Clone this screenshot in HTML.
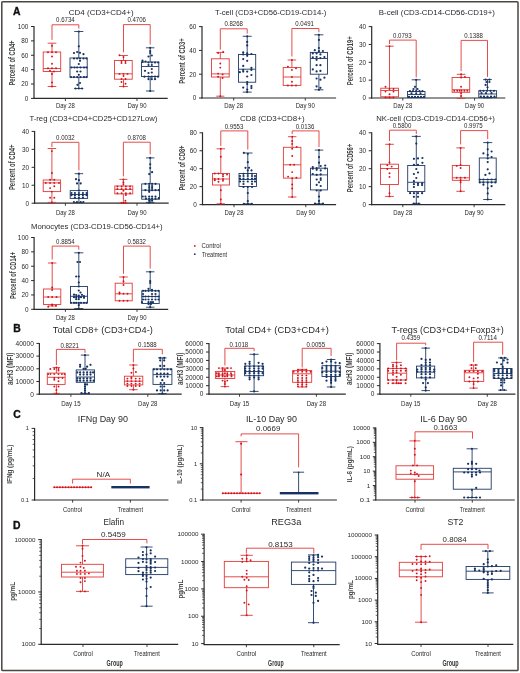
<!DOCTYPE html>
<html><head><meta charset="utf-8"><style>
html,body{margin:0;padding:0;background:#fff;}
svg{display:block;will-change:transform;}
text{font-family:"Liberation Sans",sans-serif;}
</style></head><body>
<svg width="520" height="673" viewBox="0 0 520 673" font-family="Liberation Sans, sans-serif">
<rect x="0" y="0" width="520" height="673" fill="#fff"/>
<rect x="1.8" y="1.8" width="516.2" height="668.8" rx="0.8" fill="none" stroke="#4a4642" stroke-width="1.5"/>
<text x="13.10" y="14.70" font-size="10.4" text-anchor="start" fill="#111" font-weight="bold" stroke="#111" stroke-width="0.35">A</text>
<text x="13.20" y="332.20" font-size="10.4" text-anchor="start" fill="#111" font-weight="bold" stroke="#111" stroke-width="0.35">B</text>
<text x="13.20" y="417.70" font-size="10.4" text-anchor="start" fill="#111" font-weight="bold" stroke="#111" stroke-width="0.35">C</text>
<text x="12.90" y="529.00" font-size="10.4" text-anchor="start" fill="#111" font-weight="bold" stroke="#111" stroke-width="0.35">D</text>
<line x1="34.00" y1="26.00" x2="34.00" y2="99.00" stroke="#2b2b2b" stroke-width="1.2"/>
<line x1="31.00" y1="98.40" x2="34.00" y2="98.40" stroke="#2b2b2b" stroke-width="1.0"/>
<text x="28.40" y="100.70" font-size="6.4" text-anchor="end" fill="#2a2a2a">0</text>
<line x1="31.00" y1="84.02" x2="34.00" y2="84.02" stroke="#2b2b2b" stroke-width="1.0"/>
<text x="28.40" y="86.32" font-size="6.4" text-anchor="end" fill="#2a2a2a">20</text>
<line x1="31.00" y1="69.64" x2="34.00" y2="69.64" stroke="#2b2b2b" stroke-width="1.0"/>
<text x="28.40" y="71.94" font-size="6.4" text-anchor="end" fill="#2a2a2a">40</text>
<line x1="31.00" y1="55.26" x2="34.00" y2="55.26" stroke="#2b2b2b" stroke-width="1.0"/>
<text x="28.40" y="57.56" font-size="6.4" text-anchor="end" fill="#2a2a2a">60</text>
<line x1="31.00" y1="40.88" x2="34.00" y2="40.88" stroke="#2b2b2b" stroke-width="1.0"/>
<text x="28.40" y="43.18" font-size="6.4" text-anchor="end" fill="#2a2a2a">80</text>
<line x1="31.00" y1="26.50" x2="34.00" y2="26.50" stroke="#2b2b2b" stroke-width="1.0"/>
<text x="28.40" y="28.80" font-size="6.4" text-anchor="end" fill="#2a2a2a">100</text>
<line x1="33.40" y1="98.40" x2="167.70" y2="98.40" stroke="#2b2b2b" stroke-width="1.2"/>
<line x1="65.40" y1="98.40" x2="65.40" y2="101.00" stroke="#2b2b2b" stroke-width="0.9"/>
<text x="65.40" y="108.00" font-size="6.6" text-anchor="middle" fill="#2a2a2a" textLength="19.00" lengthAdjust="spacingAndGlyphs">Day 28</text>
<line x1="137.00" y1="98.40" x2="137.00" y2="101.00" stroke="#2b2b2b" stroke-width="0.9"/>
<text x="137.00" y="108.00" font-size="6.6" text-anchor="middle" fill="#2a2a2a" textLength="19.00" lengthAdjust="spacingAndGlyphs">Day 90</text>
<text x="101.20" y="14.80" font-size="6.9" text-anchor="middle" fill="#2a2a2a" textLength="64.70" lengthAdjust="spacingAndGlyphs">CD4 (CD3+CD4+)</text>
<text transform="translate(15.20,63.00) rotate(-90)" x="0" y="0" font-size="8.2" text-anchor="middle" fill="#444" textLength="45.00" lengthAdjust="spacingAndGlyphs" font-weight="bold">Percent of CD4+</text>
<rect x="43.20" y="52.00" width="17.50" height="19.50" fill="none" stroke="#e03a38" stroke-width="0.9"/>
<line x1="43.20" y1="68.50" x2="60.70" y2="68.50" stroke="#e03a38" stroke-width="0.9"/>
<line x1="52.00" y1="43.20" x2="52.00" y2="52.00" stroke="#e03a38" stroke-width="0.9"/>
<line x1="47.65" y1="43.20" x2="56.35" y2="43.20" stroke="#e03a38" stroke-width="0.9"/>
<line x1="52.00" y1="71.50" x2="52.00" y2="86.50" stroke="#e03a38" stroke-width="0.9"/>
<line x1="47.65" y1="86.50" x2="56.35" y2="86.50" stroke="#e03a38" stroke-width="0.9"/>
<g fill="#d7101c"><circle cx="52.00" cy="45.80" r="0.95"/><circle cx="48.00" cy="52.20" r="0.95"/><circle cx="52.00" cy="52.20" r="0.95"/><circle cx="56.00" cy="52.20" r="0.95"/><circle cx="52.00" cy="56.50" r="0.95"/><circle cx="52.00" cy="63.80" r="0.95"/><circle cx="48.00" cy="68.20" r="0.95"/><circle cx="52.00" cy="68.20" r="0.95"/><circle cx="56.00" cy="68.20" r="0.95"/><circle cx="50.00" cy="70.80" r="0.95"/><circle cx="54.00" cy="71.50" r="0.95"/><circle cx="52.00" cy="74.00" r="0.95"/><circle cx="52.00" cy="82.50" r="0.95"/><circle cx="52.00" cy="86.50" r="0.95"/></g>
<rect x="70.00" y="58.00" width="17.20" height="19.20" fill="none" stroke="#1f3a66" stroke-width="0.9"/>
<line x1="70.00" y1="67.30" x2="87.20" y2="67.30" stroke="#1f3a66" stroke-width="0.9"/>
<line x1="78.80" y1="31.50" x2="78.80" y2="58.00" stroke="#1f3a66" stroke-width="0.9"/>
<line x1="74.30" y1="31.50" x2="83.30" y2="31.50" stroke="#1f3a66" stroke-width="0.9"/>
<line x1="78.80" y1="77.20" x2="78.80" y2="88.50" stroke="#1f3a66" stroke-width="0.9"/>
<line x1="74.30" y1="88.50" x2="83.30" y2="88.50" stroke="#1f3a66" stroke-width="0.9"/>
<g fill="#173262"><circle cx="78.80" cy="31.50" r="1.1"/><circle cx="78.80" cy="46.30" r="1.1"/><circle cx="74.00" cy="53.00" r="1.1"/><circle cx="77.20" cy="52.00" r="1.1"/><circle cx="80.00" cy="52.80" r="1.1"/><circle cx="83.50" cy="54.20" r="1.1"/><circle cx="74.00" cy="58.50" r="1.1"/><circle cx="77.20" cy="58.50" r="1.1"/><circle cx="80.00" cy="58.50" r="1.1"/><circle cx="83.50" cy="58.50" r="1.1"/><circle cx="86.50" cy="58.50" r="1.1"/><circle cx="80.00" cy="60.80" r="1.1"/><circle cx="78.80" cy="64.00" r="1.1"/><circle cx="71.50" cy="67.50" r="1.1"/><circle cx="74.50" cy="67.50" r="1.1"/><circle cx="77.20" cy="67.50" r="1.1"/><circle cx="80.50" cy="67.50" r="1.1"/><circle cx="84.00" cy="67.50" r="1.1"/><circle cx="86.50" cy="67.50" r="1.1"/><circle cx="77.20" cy="71.50" r="1.1"/><circle cx="80.50" cy="71.50" r="1.1"/><circle cx="78.80" cy="74.80" r="1.1"/><circle cx="71.00" cy="77.10" r="1.1"/><circle cx="74.00" cy="77.10" r="1.1"/><circle cx="77.20" cy="77.10" r="1.1"/><circle cx="80.50" cy="77.10" r="1.1"/><circle cx="84.00" cy="77.10" r="1.1"/><circle cx="86.50" cy="77.10" r="1.1"/><circle cx="80.00" cy="83.00" r="1.1"/><circle cx="77.50" cy="84.80" r="1.1"/><circle cx="75.50" cy="88.50" r="1.1"/><circle cx="78.80" cy="88.50" r="1.1"/><circle cx="82.00" cy="88.50" r="1.1"/></g>
<rect x="114.50" y="60.50" width="17.70" height="18.70" fill="none" stroke="#e03a38" stroke-width="0.9"/>
<line x1="114.50" y1="73.80" x2="132.20" y2="73.80" stroke="#e03a38" stroke-width="0.9"/>
<line x1="123.50" y1="55.50" x2="123.50" y2="60.50" stroke="#e03a38" stroke-width="0.9"/>
<line x1="119.10" y1="55.50" x2="127.90" y2="55.50" stroke="#e03a38" stroke-width="0.9"/>
<line x1="123.50" y1="79.20" x2="123.50" y2="86.50" stroke="#e03a38" stroke-width="0.9"/>
<line x1="119.10" y1="86.50" x2="127.90" y2="86.50" stroke="#e03a38" stroke-width="0.9"/>
<g fill="#d7101c"><circle cx="119.50" cy="55.30" r="0.95"/><circle cx="123.50" cy="57.00" r="0.95"/><circle cx="121.50" cy="61.00" r="0.95"/><circle cx="125.50" cy="61.00" r="0.95"/><circle cx="121.50" cy="63.00" r="0.95"/><circle cx="125.50" cy="63.00" r="0.95"/><circle cx="119.50" cy="73.90" r="0.95"/><circle cx="123.50" cy="73.90" r="0.95"/><circle cx="127.50" cy="73.90" r="0.95"/><circle cx="123.50" cy="76.00" r="0.95"/><circle cx="121.50" cy="79.00" r="0.95"/><circle cx="125.50" cy="79.00" r="0.95"/><circle cx="121.50" cy="82.00" r="0.95"/><circle cx="125.50" cy="83.80" r="0.95"/><circle cx="123.50" cy="86.50" r="0.95"/></g>
<rect x="141.50" y="62.00" width="17.30" height="14.50" fill="none" stroke="#1f3a66" stroke-width="0.9"/>
<line x1="141.50" y1="66.50" x2="158.80" y2="66.50" stroke="#1f3a66" stroke-width="0.9"/>
<line x1="150.20" y1="47.80" x2="150.20" y2="62.00" stroke="#1f3a66" stroke-width="0.9"/>
<line x1="145.95" y1="47.80" x2="154.45" y2="47.80" stroke="#1f3a66" stroke-width="0.9"/>
<line x1="150.20" y1="76.50" x2="150.20" y2="91.00" stroke="#1f3a66" stroke-width="0.9"/>
<line x1="145.95" y1="91.00" x2="154.45" y2="91.00" stroke="#1f3a66" stroke-width="0.9"/>
<g fill="#173262"><circle cx="150.20" cy="47.80" r="1.1"/><circle cx="150.20" cy="51.00" r="1.1"/><circle cx="150.20" cy="53.00" r="1.1"/><circle cx="148.50" cy="56.50" r="1.1"/><circle cx="151.80" cy="55.50" r="1.1"/><circle cx="142.50" cy="60.50" r="1.1"/><circle cx="142.50" cy="62.00" r="1.1"/><circle cx="145.50" cy="61.50" r="1.1"/><circle cx="148.50" cy="62.50" r="1.1"/><circle cx="151.80" cy="62.50" r="1.1"/><circle cx="155.00" cy="62.50" r="1.1"/><circle cx="158.20" cy="62.50" r="1.1"/><circle cx="148.50" cy="65.00" r="1.1"/><circle cx="151.80" cy="65.00" r="1.1"/><circle cx="145.00" cy="70.80" r="1.1"/><circle cx="148.50" cy="73.00" r="1.1"/><circle cx="151.80" cy="69.00" r="1.1"/><circle cx="151.80" cy="72.50" r="1.1"/><circle cx="144.50" cy="76.70" r="1.1"/><circle cx="148.50" cy="76.70" r="1.1"/><circle cx="151.80" cy="76.70" r="1.1"/><circle cx="155.00" cy="76.70" r="1.1"/><circle cx="158.00" cy="76.70" r="1.1"/><circle cx="148.50" cy="79.20" r="1.1"/><circle cx="151.80" cy="79.20" r="1.1"/><circle cx="155.00" cy="79.20" r="1.1"/><circle cx="150.20" cy="91.00" r="1.1"/></g>
<path d="M52.00,39.90 V24.80 H78.80 V28.50" fill="none" stroke="#e03a38" stroke-width="0.9"/>
<text x="65.40" y="22.40" font-size="6.3" text-anchor="middle" fill="#2a2a2a" textLength="18.60" lengthAdjust="spacingAndGlyphs">0.6734</text>
<path d="M123.50,52.30 V24.60 H150.20 V44.60" fill="none" stroke="#e03a38" stroke-width="0.9"/>
<text x="136.70" y="22.30" font-size="6.3" text-anchor="middle" fill="#2a2a2a" textLength="18.60" lengthAdjust="spacingAndGlyphs">0.4706</text>
<line x1="202.00" y1="26.10" x2="202.00" y2="98.60" stroke="#2b2b2b" stroke-width="1.2"/>
<line x1="199.00" y1="98.00" x2="202.00" y2="98.00" stroke="#2b2b2b" stroke-width="1.0"/>
<text x="196.40" y="100.30" font-size="6.4" text-anchor="end" fill="#2a2a2a">0</text>
<line x1="199.00" y1="74.20" x2="202.00" y2="74.20" stroke="#2b2b2b" stroke-width="1.0"/>
<text x="196.40" y="76.50" font-size="6.4" text-anchor="end" fill="#2a2a2a">20</text>
<line x1="199.00" y1="50.40" x2="202.00" y2="50.40" stroke="#2b2b2b" stroke-width="1.0"/>
<text x="196.40" y="52.70" font-size="6.4" text-anchor="end" fill="#2a2a2a">40</text>
<line x1="199.00" y1="26.60" x2="202.00" y2="26.60" stroke="#2b2b2b" stroke-width="1.0"/>
<text x="196.40" y="28.90" font-size="6.4" text-anchor="end" fill="#2a2a2a">60</text>
<line x1="201.40" y1="98.00" x2="336.10" y2="98.00" stroke="#2b2b2b" stroke-width="1.2"/>
<line x1="233.70" y1="98.00" x2="233.70" y2="100.60" stroke="#2b2b2b" stroke-width="0.9"/>
<text x="233.70" y="108.00" font-size="6.6" text-anchor="middle" fill="#2a2a2a" textLength="19.00" lengthAdjust="spacingAndGlyphs">Day 28</text>
<line x1="305.30" y1="98.00" x2="305.30" y2="100.60" stroke="#2b2b2b" stroke-width="0.9"/>
<text x="305.30" y="108.00" font-size="6.6" text-anchor="middle" fill="#2a2a2a" textLength="19.00" lengthAdjust="spacingAndGlyphs">Day 90</text>
<text x="270.70" y="14.80" font-size="6.9" text-anchor="middle" fill="#2a2a2a" textLength="111.40" lengthAdjust="spacingAndGlyphs">T-cell (CD3+CD56-CD19-CD14-)</text>
<text transform="translate(184.60,61.00) rotate(-90)" x="0" y="0" font-size="8.2" text-anchor="middle" fill="#444" textLength="45.50" lengthAdjust="spacingAndGlyphs" font-weight="bold">Percent of CD3+</text>
<rect x="211.50" y="58.80" width="17.70" height="18.20" fill="none" stroke="#e03a38" stroke-width="0.9"/>
<line x1="211.50" y1="73.90" x2="229.20" y2="73.90" stroke="#e03a38" stroke-width="0.9"/>
<line x1="220.30" y1="52.40" x2="220.30" y2="58.80" stroke="#e03a38" stroke-width="0.9"/>
<line x1="216.25" y1="52.40" x2="224.35" y2="52.40" stroke="#e03a38" stroke-width="0.9"/>
<line x1="220.30" y1="77.00" x2="220.30" y2="96.20" stroke="#e03a38" stroke-width="0.9"/>
<line x1="216.25" y1="96.20" x2="224.35" y2="96.20" stroke="#e03a38" stroke-width="0.9"/>
<g fill="#d7101c"><circle cx="218.10" cy="53.00" r="0.95"/><circle cx="223.20" cy="52.00" r="0.95"/><circle cx="220.30" cy="63.50" r="0.95"/><circle cx="220.30" cy="67.60" r="0.95"/><circle cx="218.10" cy="73.60" r="0.95"/><circle cx="222.60" cy="74.40" r="0.95"/><circle cx="218.10" cy="76.70" r="0.95"/><circle cx="222.60" cy="78.00" r="0.95"/><circle cx="220.30" cy="96.20" r="0.95"/></g>
<rect x="238.50" y="54.50" width="17.20" height="27.70" fill="none" stroke="#1f3a66" stroke-width="0.9"/>
<line x1="238.50" y1="69.20" x2="255.70" y2="69.20" stroke="#1f3a66" stroke-width="0.9"/>
<line x1="247.20" y1="36.30" x2="247.20" y2="54.50" stroke="#1f3a66" stroke-width="0.9"/>
<line x1="242.70" y1="36.30" x2="251.70" y2="36.30" stroke="#1f3a66" stroke-width="0.9"/>
<line x1="247.20" y1="82.20" x2="247.20" y2="92.10" stroke="#1f3a66" stroke-width="0.9"/>
<line x1="242.70" y1="92.10" x2="251.70" y2="92.10" stroke="#1f3a66" stroke-width="0.9"/>
<g fill="#173262"><circle cx="247.20" cy="36.30" r="1.1"/><circle cx="247.20" cy="41.90" r="1.1"/><circle cx="247.20" cy="45.40" r="1.1"/><circle cx="243.20" cy="52.40" r="1.1"/><circle cx="243.20" cy="54.40" r="1.1"/><circle cx="247.20" cy="53.40" r="1.1"/><circle cx="247.20" cy="55.80" r="1.1"/><circle cx="251.40" cy="54.00" r="1.1"/><circle cx="243.20" cy="59.10" r="1.1"/><circle cx="247.20" cy="60.80" r="1.1"/><circle cx="243.20" cy="65.90" r="1.1"/><circle cx="239.80" cy="72.20" r="1.1"/><circle cx="243.20" cy="69.90" r="1.1"/><circle cx="243.20" cy="71.60" r="1.1"/><circle cx="247.20" cy="71.60" r="1.1"/><circle cx="251.40" cy="67.90" r="1.1"/><circle cx="251.40" cy="69.90" r="1.1"/><circle cx="251.40" cy="75.00" r="1.1"/><circle cx="247.20" cy="76.50" r="1.1"/><circle cx="247.20" cy="82.00" r="1.1"/><circle cx="247.20" cy="84.00" r="1.1"/><circle cx="243.20" cy="87.60" r="1.1"/><circle cx="251.40" cy="86.10" r="1.1"/><circle cx="251.40" cy="88.10" r="1.1"/><circle cx="247.20" cy="89.60" r="1.1"/><circle cx="247.20" cy="92.10" r="1.1"/></g>
<rect x="283.20" y="67.60" width="17.70" height="17.80" fill="none" stroke="#e03a38" stroke-width="0.9"/>
<line x1="283.20" y1="77.00" x2="300.90" y2="77.00" stroke="#e03a38" stroke-width="0.9"/>
<line x1="291.90" y1="60.00" x2="291.90" y2="67.60" stroke="#e03a38" stroke-width="0.9"/>
<line x1="287.65" y1="60.00" x2="296.15" y2="60.00" stroke="#e03a38" stroke-width="0.9"/>
<g fill="#d7101c"><circle cx="291.90" cy="60.00" r="0.95"/><circle cx="287.90" cy="66.60" r="0.95"/><circle cx="291.90" cy="69.90" r="0.95"/><circle cx="296.00" cy="68.20" r="0.95"/><circle cx="291.90" cy="77.00" r="0.95"/><circle cx="291.90" cy="81.70" r="0.95"/><circle cx="287.90" cy="85.50" r="0.95"/><circle cx="291.90" cy="85.50" r="0.95"/><circle cx="296.00" cy="85.50" r="0.95"/></g>
<rect x="310.30" y="52.40" width="17.20" height="21.80" fill="none" stroke="#1f3a66" stroke-width="0.9"/>
<line x1="310.30" y1="58.50" x2="327.50" y2="58.50" stroke="#1f3a66" stroke-width="0.9"/>
<line x1="318.90" y1="34.80" x2="318.90" y2="52.40" stroke="#1f3a66" stroke-width="0.9"/>
<line x1="314.40" y1="34.80" x2="323.40" y2="34.80" stroke="#1f3a66" stroke-width="0.9"/>
<line x1="318.90" y1="74.20" x2="318.90" y2="89.80" stroke="#1f3a66" stroke-width="0.9"/>
<line x1="314.40" y1="89.80" x2="323.40" y2="89.80" stroke="#1f3a66" stroke-width="0.9"/>
<g fill="#173262"><circle cx="318.90" cy="34.80" r="1.1"/><circle cx="318.90" cy="39.90" r="1.1"/><circle cx="318.90" cy="48.00" r="1.1"/><circle cx="314.80" cy="50.20" r="1.1"/><circle cx="318.90" cy="51.20" r="1.1"/><circle cx="322.90" cy="51.00" r="1.1"/><circle cx="312.80" cy="53.40" r="1.1"/><circle cx="316.60" cy="53.40" r="1.1"/><circle cx="320.40" cy="54.40" r="1.1"/><circle cx="312.80" cy="57.30" r="1.1"/><circle cx="316.60" cy="57.00" r="1.1"/><circle cx="316.60" cy="59.80" r="1.1"/><circle cx="320.40" cy="58.10" r="1.1"/><circle cx="324.40" cy="57.10" r="1.1"/><circle cx="316.60" cy="65.20" r="1.1"/><circle cx="320.40" cy="65.20" r="1.1"/><circle cx="312.80" cy="69.40" r="1.1"/><circle cx="316.60" cy="71.40" r="1.1"/><circle cx="320.40" cy="70.90" r="1.1"/><circle cx="316.60" cy="78.50" r="1.1"/><circle cx="320.40" cy="79.70" r="1.1"/><circle cx="324.40" cy="77.70" r="1.1"/><circle cx="316.60" cy="86.40" r="1.1"/><circle cx="320.40" cy="87.80" r="1.1"/><circle cx="318.90" cy="89.80" r="1.1"/></g>
<path d="M220.30,49.60 V28.80 H247.20 V33.70" fill="none" stroke="#e03a38" stroke-width="0.9"/>
<text x="233.70" y="26.20" font-size="6.3" text-anchor="middle" fill="#2a2a2a" textLength="18.60" lengthAdjust="spacingAndGlyphs">0.8268</text>
<path d="M291.90,56.50 V28.50 H318.90 V32.30" fill="none" stroke="#e03a38" stroke-width="0.9"/>
<text x="304.60" y="26.20" font-size="6.3" text-anchor="middle" fill="#2a2a2a" textLength="18.60" lengthAdjust="spacingAndGlyphs">0.0491</text>
<line x1="371.70" y1="26.10" x2="371.70" y2="98.60" stroke="#2b2b2b" stroke-width="1.2"/>
<line x1="368.70" y1="98.00" x2="371.70" y2="98.00" stroke="#2b2b2b" stroke-width="1.0"/>
<text x="366.10" y="100.30" font-size="6.4" text-anchor="end" fill="#2a2a2a">0</text>
<line x1="368.70" y1="80.15" x2="371.70" y2="80.15" stroke="#2b2b2b" stroke-width="1.0"/>
<text x="366.10" y="82.45" font-size="6.4" text-anchor="end" fill="#2a2a2a">10</text>
<line x1="368.70" y1="62.30" x2="371.70" y2="62.30" stroke="#2b2b2b" stroke-width="1.0"/>
<text x="366.10" y="64.60" font-size="6.4" text-anchor="end" fill="#2a2a2a">20</text>
<line x1="368.70" y1="44.45" x2="371.70" y2="44.45" stroke="#2b2b2b" stroke-width="1.0"/>
<text x="366.10" y="46.75" font-size="6.4" text-anchor="end" fill="#2a2a2a">30</text>
<line x1="368.70" y1="26.60" x2="371.70" y2="26.60" stroke="#2b2b2b" stroke-width="1.0"/>
<text x="366.10" y="28.90" font-size="6.4" text-anchor="end" fill="#2a2a2a">40</text>
<line x1="371.10" y1="98.00" x2="505.30" y2="98.00" stroke="#2b2b2b" stroke-width="1.2"/>
<line x1="402.80" y1="98.00" x2="402.80" y2="100.60" stroke="#2b2b2b" stroke-width="0.9"/>
<text x="402.80" y="108.00" font-size="6.6" text-anchor="middle" fill="#2a2a2a" textLength="19.00" lengthAdjust="spacingAndGlyphs">Day 28</text>
<line x1="474.60" y1="98.00" x2="474.60" y2="100.60" stroke="#2b2b2b" stroke-width="0.9"/>
<text x="474.60" y="108.00" font-size="6.6" text-anchor="middle" fill="#2a2a2a" textLength="19.00" lengthAdjust="spacingAndGlyphs">Day 90</text>
<text x="436.90" y="14.80" font-size="6.9" text-anchor="middle" fill="#2a2a2a" textLength="116.20" lengthAdjust="spacingAndGlyphs">B-cell (CD3-CD14-CD56-CD19+)</text>
<text transform="translate(353.10,60.80) rotate(-90)" x="0" y="0" font-size="8.2" text-anchor="middle" fill="#444" textLength="49.00" lengthAdjust="spacingAndGlyphs" font-weight="bold">Percent of CD19+</text>
<rect x="380.80" y="88.20" width="17.70" height="8.60" fill="none" stroke="#e03a38" stroke-width="0.9"/>
<line x1="380.80" y1="90.50" x2="398.50" y2="90.50" stroke="#e03a38" stroke-width="0.9"/>
<line x1="389.50" y1="46.20" x2="389.50" y2="88.20" stroke="#e03a38" stroke-width="0.9"/>
<line x1="385.25" y1="46.20" x2="393.75" y2="46.20" stroke="#e03a38" stroke-width="0.9"/>
<line x1="389.50" y1="96.80" x2="389.50" y2="97.80" stroke="#e03a38" stroke-width="0.9"/>
<line x1="385.25" y1="97.80" x2="393.75" y2="97.80" stroke="#e03a38" stroke-width="0.9"/>
<g fill="#d7101c"><circle cx="389.50" cy="46.20" r="0.95"/><circle cx="385.50" cy="86.80" r="0.95"/><circle cx="389.50" cy="89.00" r="0.95"/><circle cx="393.50" cy="89.00" r="0.95"/><circle cx="385.50" cy="91.60" r="0.95"/><circle cx="393.50" cy="91.60" r="0.95"/><circle cx="389.50" cy="94.20" r="0.95"/><circle cx="385.50" cy="97.40" r="0.95"/><circle cx="389.50" cy="97.40" r="0.95"/><circle cx="393.50" cy="97.40" r="0.95"/></g>
<rect x="407.50" y="91.50" width="17.50" height="6.00" fill="none" stroke="#1f3a66" stroke-width="0.9"/>
<line x1="407.50" y1="94.50" x2="425.00" y2="94.50" stroke="#1f3a66" stroke-width="0.9"/>
<line x1="416.20" y1="79.80" x2="416.20" y2="91.50" stroke="#1f3a66" stroke-width="0.9"/>
<line x1="411.70" y1="79.80" x2="420.70" y2="79.80" stroke="#1f3a66" stroke-width="0.9"/>
<g fill="#173262"><circle cx="416.20" cy="79.80" r="1.1"/><circle cx="415.00" cy="86.80" r="1.1"/><circle cx="413.50" cy="89.00" r="1.1"/><circle cx="417.50" cy="89.00" r="1.1"/><circle cx="410.00" cy="91.20" r="1.1"/><circle cx="413.00" cy="91.20" r="1.1"/><circle cx="416.20" cy="91.20" r="1.1"/><circle cx="419.50" cy="91.20" r="1.1"/><circle cx="422.50" cy="91.20" r="1.1"/><circle cx="411.50" cy="93.30" r="1.1"/><circle cx="416.20" cy="93.30" r="1.1"/><circle cx="420.50" cy="93.30" r="1.1"/><circle cx="409.00" cy="96.80" r="1.1"/><circle cx="412.00" cy="96.80" r="1.1"/><circle cx="415.00" cy="96.80" r="1.1"/><circle cx="418.00" cy="96.80" r="1.1"/><circle cx="421.00" cy="96.80" r="1.1"/><circle cx="424.00" cy="96.80" r="1.1"/></g>
<rect x="452.10" y="77.50" width="17.60" height="14.80" fill="none" stroke="#e03a38" stroke-width="0.9"/>
<line x1="452.10" y1="89.70" x2="469.70" y2="89.70" stroke="#e03a38" stroke-width="0.9"/>
<line x1="461.10" y1="74.30" x2="461.10" y2="77.50" stroke="#e03a38" stroke-width="0.9"/>
<line x1="456.75" y1="74.30" x2="465.45" y2="74.30" stroke="#e03a38" stroke-width="0.9"/>
<line x1="461.10" y1="92.30" x2="461.10" y2="98.40" stroke="#e03a38" stroke-width="0.9"/>
<line x1="456.75" y1="98.40" x2="465.45" y2="98.40" stroke="#e03a38" stroke-width="0.9"/>
<g fill="#d7101c"><circle cx="461.10" cy="74.30" r="0.95"/><circle cx="461.10" cy="77.50" r="0.95"/><circle cx="464.90" cy="76.90" r="0.95"/><circle cx="461.10" cy="86.80" r="0.95"/><circle cx="454.30" cy="90.70" r="0.95"/><circle cx="457.20" cy="90.70" r="0.95"/><circle cx="459.60" cy="90.70" r="0.95"/><circle cx="461.50" cy="90.70" r="0.95"/><circle cx="464.40" cy="90.70" r="0.95"/><circle cx="467.30" cy="90.70" r="0.95"/><circle cx="461.10" cy="93.10" r="0.95"/><circle cx="461.10" cy="96.00" r="0.95"/></g>
<rect x="478.80" y="90.70" width="17.80" height="6.70" fill="none" stroke="#1f3a66" stroke-width="0.9"/>
<line x1="478.80" y1="94.00" x2="496.60" y2="94.00" stroke="#1f3a66" stroke-width="0.9"/>
<line x1="487.50" y1="79.60" x2="487.50" y2="90.70" stroke="#1f3a66" stroke-width="0.9"/>
<line x1="483.15" y1="79.60" x2="491.85" y2="79.60" stroke="#1f3a66" stroke-width="0.9"/>
<line x1="487.50" y1="97.40" x2="487.50" y2="97.80" stroke="#1f3a66" stroke-width="0.9"/>
<line x1="483.15" y1="97.80" x2="491.85" y2="97.80" stroke="#1f3a66" stroke-width="0.9"/>
<g fill="#173262"><circle cx="485.60" cy="79.60" r="1.1"/><circle cx="489.40" cy="79.60" r="1.1"/><circle cx="486.50" cy="82.00" r="1.1"/><circle cx="489.40" cy="82.00" r="1.1"/><circle cx="485.60" cy="84.90" r="1.1"/><circle cx="487.50" cy="87.30" r="1.1"/><circle cx="480.30" cy="90.80" r="1.1"/><circle cx="483.50" cy="90.80" r="1.1"/><circle cx="487.00" cy="90.80" r="1.1"/><circle cx="490.50" cy="90.80" r="1.1"/><circle cx="494.00" cy="90.80" r="1.1"/><circle cx="481.50" cy="93.20" r="1.1"/><circle cx="486.00" cy="93.20" r="1.1"/><circle cx="491.50" cy="93.20" r="1.1"/><circle cx="480.80" cy="96.50" r="1.1"/><circle cx="484.00" cy="96.50" r="1.1"/><circle cx="487.50" cy="96.50" r="1.1"/><circle cx="491.00" cy="96.50" r="1.1"/><circle cx="494.50" cy="96.50" r="1.1"/></g>
<path d="M389.50,44.00 V40.10 H416.20 V77.30" fill="none" stroke="#e03a38" stroke-width="0.9"/>
<text x="402.30" y="37.70" font-size="6.3" text-anchor="middle" fill="#2a2a2a" textLength="18.60" lengthAdjust="spacingAndGlyphs">0.0793</text>
<path d="M461.10,71.20 V40.40 H487.50 V76.90" fill="none" stroke="#e03a38" stroke-width="0.9"/>
<text x="473.60" y="37.70" font-size="6.3" text-anchor="middle" fill="#2a2a2a" textLength="18.60" lengthAdjust="spacingAndGlyphs">0.1388</text>
<line x1="34.60" y1="130.90" x2="34.60" y2="203.80" stroke="#2b2b2b" stroke-width="1.2"/>
<line x1="31.60" y1="203.20" x2="34.60" y2="203.20" stroke="#2b2b2b" stroke-width="1.0"/>
<text x="29.00" y="205.50" font-size="6.4" text-anchor="end" fill="#2a2a2a">0</text>
<line x1="31.60" y1="185.25" x2="34.60" y2="185.25" stroke="#2b2b2b" stroke-width="1.0"/>
<text x="29.00" y="187.55" font-size="6.4" text-anchor="end" fill="#2a2a2a">10</text>
<line x1="31.60" y1="167.30" x2="34.60" y2="167.30" stroke="#2b2b2b" stroke-width="1.0"/>
<text x="29.00" y="169.60" font-size="6.4" text-anchor="end" fill="#2a2a2a">20</text>
<line x1="31.60" y1="149.35" x2="34.60" y2="149.35" stroke="#2b2b2b" stroke-width="1.0"/>
<text x="29.00" y="151.65" font-size="6.4" text-anchor="end" fill="#2a2a2a">30</text>
<line x1="31.60" y1="131.40" x2="34.60" y2="131.40" stroke="#2b2b2b" stroke-width="1.0"/>
<text x="29.00" y="133.70" font-size="6.4" text-anchor="end" fill="#2a2a2a">40</text>
<line x1="34.00" y1="203.20" x2="168.70" y2="203.20" stroke="#2b2b2b" stroke-width="1.2"/>
<line x1="65.40" y1="203.20" x2="65.40" y2="205.80" stroke="#2b2b2b" stroke-width="0.9"/>
<text x="65.40" y="214.60" font-size="6.6" text-anchor="middle" fill="#2a2a2a" textLength="19.00" lengthAdjust="spacingAndGlyphs">Day 28</text>
<line x1="137.00" y1="203.20" x2="137.00" y2="205.80" stroke="#2b2b2b" stroke-width="0.9"/>
<text x="137.00" y="214.60" font-size="6.6" text-anchor="middle" fill="#2a2a2a" textLength="19.00" lengthAdjust="spacingAndGlyphs">Day 90</text>
<text x="93.40" y="121.20" font-size="6.9" text-anchor="middle" fill="#2a2a2a" textLength="128.00" lengthAdjust="spacingAndGlyphs">T-reg (CD3+CD4+CD25+CD127Low)</text>
<text transform="translate(15.40,167.30) rotate(-90)" x="0" y="0" font-size="8.2" text-anchor="middle" fill="#444" textLength="45.50" lengthAdjust="spacingAndGlyphs" font-weight="bold">Percent of CD4+</text>
<rect x="43.20" y="180.00" width="17.40" height="11.60" fill="none" stroke="#e03a38" stroke-width="0.9"/>
<line x1="43.20" y1="182.90" x2="60.60" y2="182.90" stroke="#e03a38" stroke-width="0.9"/>
<line x1="51.90" y1="148.50" x2="51.90" y2="180.00" stroke="#e03a38" stroke-width="0.9"/>
<line x1="47.65" y1="148.50" x2="56.15" y2="148.50" stroke="#e03a38" stroke-width="0.9"/>
<line x1="51.90" y1="191.60" x2="51.90" y2="202.40" stroke="#e03a38" stroke-width="0.9"/>
<line x1="47.65" y1="202.40" x2="56.15" y2="202.40" stroke="#e03a38" stroke-width="0.9"/>
<g fill="#d7101c"><circle cx="51.90" cy="151.10" r="0.95"/><circle cx="51.90" cy="173.00" r="0.95"/><circle cx="50.10" cy="179.70" r="0.95"/><circle cx="54.30" cy="179.70" r="0.95"/><circle cx="45.80" cy="182.90" r="0.95"/><circle cx="50.10" cy="182.90" r="0.95"/><circle cx="54.30" cy="182.90" r="0.95"/><circle cx="59.00" cy="182.90" r="0.95"/><circle cx="54.30" cy="186.30" r="0.95"/><circle cx="50.10" cy="188.10" r="0.95"/><circle cx="51.90" cy="191.60" r="0.95"/><circle cx="50.10" cy="197.70" r="0.95"/><circle cx="54.30" cy="197.70" r="0.95"/><circle cx="51.90" cy="202.40" r="0.95"/></g>
<rect x="70.20" y="190.60" width="17.40" height="7.80" fill="none" stroke="#1f3a66" stroke-width="0.9"/>
<line x1="70.20" y1="194.50" x2="87.60" y2="194.50" stroke="#1f3a66" stroke-width="0.9"/>
<line x1="78.90" y1="173.70" x2="78.90" y2="190.60" stroke="#1f3a66" stroke-width="0.9"/>
<line x1="74.65" y1="173.70" x2="83.15" y2="173.70" stroke="#1f3a66" stroke-width="0.9"/>
<line x1="78.90" y1="198.40" x2="78.90" y2="202.60" stroke="#1f3a66" stroke-width="0.9"/>
<line x1="74.65" y1="202.60" x2="83.15" y2="202.60" stroke="#1f3a66" stroke-width="0.9"/>
<g fill="#173262"><circle cx="78.90" cy="173.70" r="1.1"/><circle cx="76.00" cy="179.20" r="1.1"/><circle cx="78.90" cy="180.20" r="1.1"/><circle cx="77.00" cy="183.40" r="1.1"/><circle cx="80.70" cy="183.40" r="1.1"/><circle cx="78.90" cy="190.60" r="1.1"/><circle cx="71.50" cy="193.00" r="1.1"/><circle cx="74.90" cy="193.00" r="1.1"/><circle cx="78.90" cy="193.00" r="1.1"/><circle cx="82.90" cy="193.00" r="1.1"/><circle cx="86.60" cy="193.00" r="1.1"/><circle cx="71.50" cy="195.20" r="1.1"/><circle cx="74.90" cy="195.20" r="1.1"/><circle cx="78.90" cy="195.20" r="1.1"/><circle cx="82.90" cy="195.20" r="1.1"/><circle cx="86.60" cy="195.20" r="1.1"/><circle cx="74.90" cy="197.70" r="1.1"/><circle cx="78.90" cy="197.70" r="1.1"/><circle cx="82.90" cy="197.70" r="1.1"/><circle cx="73.90" cy="202.00" r="1.1"/><circle cx="77.00" cy="202.00" r="1.1"/><circle cx="80.70" cy="202.00" r="1.1"/><circle cx="83.40" cy="202.00" r="1.1"/></g>
<rect x="114.80" y="186.00" width="18.00" height="7.90" fill="none" stroke="#e03a38" stroke-width="0.9"/>
<line x1="114.80" y1="189.40" x2="132.80" y2="189.40" stroke="#e03a38" stroke-width="0.9"/>
<line x1="123.40" y1="179.40" x2="123.40" y2="186.00" stroke="#e03a38" stroke-width="0.9"/>
<line x1="119.40" y1="179.40" x2="127.40" y2="179.40" stroke="#e03a38" stroke-width="0.9"/>
<line x1="123.40" y1="193.90" x2="123.40" y2="202.90" stroke="#e03a38" stroke-width="0.9"/>
<line x1="119.40" y1="202.90" x2="127.40" y2="202.90" stroke="#e03a38" stroke-width="0.9"/>
<g fill="#d7101c"><circle cx="123.40" cy="179.40" r="0.95"/><circle cx="123.40" cy="182.30" r="0.95"/><circle cx="123.40" cy="184.10" r="0.95"/><circle cx="117.40" cy="186.50" r="0.95"/><circle cx="121.60" cy="186.50" r="0.95"/><circle cx="125.90" cy="186.50" r="0.95"/><circle cx="130.10" cy="186.50" r="0.95"/><circle cx="117.40" cy="189.00" r="0.95"/><circle cx="121.60" cy="189.00" r="0.95"/><circle cx="125.90" cy="189.00" r="0.95"/><circle cx="130.10" cy="189.00" r="0.95"/><circle cx="123.40" cy="190.70" r="0.95"/><circle cx="117.40" cy="193.20" r="0.95"/><circle cx="121.60" cy="193.20" r="0.95"/><circle cx="125.90" cy="193.20" r="0.95"/><circle cx="130.10" cy="193.20" r="0.95"/><circle cx="125.90" cy="195.00" r="0.95"/><circle cx="125.40" cy="200.80" r="0.95"/><circle cx="121.60" cy="202.90" r="0.95"/><circle cx="123.40" cy="202.90" r="0.95"/><circle cx="125.40" cy="202.90" r="0.95"/></g>
<rect x="141.70" y="183.90" width="17.80" height="15.30" fill="none" stroke="#1f3a66" stroke-width="0.9"/>
<line x1="141.70" y1="190.20" x2="159.50" y2="190.20" stroke="#1f3a66" stroke-width="0.9"/>
<line x1="150.20" y1="157.90" x2="150.20" y2="183.90" stroke="#1f3a66" stroke-width="0.9"/>
<line x1="145.95" y1="157.90" x2="154.45" y2="157.90" stroke="#1f3a66" stroke-width="0.9"/>
<line x1="150.20" y1="199.20" x2="150.20" y2="202.40" stroke="#1f3a66" stroke-width="0.9"/>
<line x1="145.95" y1="202.40" x2="154.45" y2="202.40" stroke="#1f3a66" stroke-width="0.9"/>
<g fill="#173262"><circle cx="150.20" cy="157.90" r="1.1"/><circle cx="150.20" cy="164.30" r="1.1"/><circle cx="150.20" cy="168.00" r="1.1"/><circle cx="152.10" cy="172.20" r="1.1"/><circle cx="149.20" cy="174.10" r="1.1"/><circle cx="145.40" cy="183.80" r="1.1"/><circle cx="149.20" cy="183.80" r="1.1"/><circle cx="152.10" cy="183.80" r="1.1"/><circle cx="155.50" cy="183.80" r="1.1"/><circle cx="149.20" cy="186.00" r="1.1"/><circle cx="152.10" cy="186.00" r="1.1"/><circle cx="149.20" cy="187.90" r="1.1"/><circle cx="152.10" cy="187.90" r="1.1"/><circle cx="145.40" cy="190.20" r="1.1"/><circle cx="149.20" cy="190.20" r="1.1"/><circle cx="152.10" cy="190.20" r="1.1"/><circle cx="155.50" cy="190.20" r="1.1"/><circle cx="158.70" cy="190.20" r="1.1"/><circle cx="149.20" cy="191.80" r="1.1"/><circle cx="142.80" cy="196.50" r="1.1"/><circle cx="145.40" cy="196.50" r="1.1"/><circle cx="149.20" cy="196.50" r="1.1"/><circle cx="152.10" cy="196.50" r="1.1"/><circle cx="155.50" cy="196.50" r="1.1"/><circle cx="158.70" cy="198.20" r="1.1"/><circle cx="146.00" cy="198.70" r="1.1"/><circle cx="149.20" cy="198.70" r="1.1"/><circle cx="152.10" cy="198.70" r="1.1"/><circle cx="155.50" cy="198.70" r="1.1"/><circle cx="149.20" cy="200.70" r="1.1"/><circle cx="152.10" cy="200.70" r="1.1"/><circle cx="149.20" cy="202.50" r="1.1"/></g>
<path d="M51.90,147.00 V142.30 H78.90 V170.40" fill="none" stroke="#e03a38" stroke-width="0.9"/>
<text x="65.40" y="140.00" font-size="6.3" text-anchor="middle" fill="#2a2a2a" textLength="18.60" lengthAdjust="spacingAndGlyphs">0.0032</text>
<path d="M123.40,176.40 V142.20 H150.20 V154.40" fill="none" stroke="#e03a38" stroke-width="0.9"/>
<text x="136.70" y="140.00" font-size="6.3" text-anchor="middle" fill="#2a2a2a" textLength="18.60" lengthAdjust="spacingAndGlyphs">0.8708</text>
<line x1="202.50" y1="132.30" x2="202.50" y2="205.20" stroke="#2b2b2b" stroke-width="1.2"/>
<line x1="199.50" y1="204.60" x2="202.50" y2="204.60" stroke="#2b2b2b" stroke-width="1.0"/>
<text x="196.90" y="206.90" font-size="6.4" text-anchor="end" fill="#2a2a2a">0</text>
<line x1="199.50" y1="186.65" x2="202.50" y2="186.65" stroke="#2b2b2b" stroke-width="1.0"/>
<text x="196.90" y="188.95" font-size="6.4" text-anchor="end" fill="#2a2a2a">20</text>
<line x1="199.50" y1="168.70" x2="202.50" y2="168.70" stroke="#2b2b2b" stroke-width="1.0"/>
<text x="196.90" y="171.00" font-size="6.4" text-anchor="end" fill="#2a2a2a">40</text>
<line x1="199.50" y1="150.75" x2="202.50" y2="150.75" stroke="#2b2b2b" stroke-width="1.0"/>
<text x="196.90" y="153.05" font-size="6.4" text-anchor="end" fill="#2a2a2a">60</text>
<line x1="199.50" y1="132.80" x2="202.50" y2="132.80" stroke="#2b2b2b" stroke-width="1.0"/>
<text x="196.90" y="135.10" font-size="6.4" text-anchor="end" fill="#2a2a2a">80</text>
<line x1="201.90" y1="204.60" x2="336.10" y2="204.60" stroke="#2b2b2b" stroke-width="1.2"/>
<line x1="234.00" y1="204.60" x2="234.00" y2="207.20" stroke="#2b2b2b" stroke-width="0.9"/>
<text x="234.00" y="214.60" font-size="6.6" text-anchor="middle" fill="#2a2a2a" textLength="19.00" lengthAdjust="spacingAndGlyphs">Day 28</text>
<line x1="305.80" y1="204.60" x2="305.80" y2="207.20" stroke="#2b2b2b" stroke-width="0.9"/>
<text x="305.80" y="214.60" font-size="6.6" text-anchor="middle" fill="#2a2a2a" textLength="19.00" lengthAdjust="spacingAndGlyphs">Day 90</text>
<text x="272.30" y="121.20" font-size="6.9" text-anchor="middle" fill="#2a2a2a" textLength="64.50" lengthAdjust="spacingAndGlyphs">CD8 (CD3+CD8+)</text>
<text transform="translate(185.20,168.00) rotate(-90)" x="0" y="0" font-size="8.2" text-anchor="middle" fill="#444" textLength="45.00" lengthAdjust="spacingAndGlyphs" font-weight="bold">Percent of CD8+</text>
<rect x="212.50" y="173.50" width="17.00" height="11.50" fill="none" stroke="#e03a38" stroke-width="0.9"/>
<line x1="212.50" y1="179.00" x2="229.50" y2="179.00" stroke="#e03a38" stroke-width="0.9"/>
<line x1="220.80" y1="148.80" x2="220.80" y2="173.50" stroke="#e03a38" stroke-width="0.9"/>
<line x1="216.60" y1="148.80" x2="225.00" y2="148.80" stroke="#e03a38" stroke-width="0.9"/>
<line x1="220.80" y1="185.00" x2="220.80" y2="203.80" stroke="#e03a38" stroke-width="0.9"/>
<line x1="216.60" y1="203.80" x2="225.00" y2="203.80" stroke="#e03a38" stroke-width="0.9"/>
<g fill="#d7101c"><circle cx="220.80" cy="148.80" r="0.95"/><circle cx="220.80" cy="156.80" r="0.95"/><circle cx="214.80" cy="173.50" r="0.95"/><circle cx="218.50" cy="173.50" r="0.95"/><circle cx="223.00" cy="174.50" r="0.95"/><circle cx="227.00" cy="174.50" r="0.95"/><circle cx="223.00" cy="176.20" r="0.95"/><circle cx="214.80" cy="179.00" r="0.95"/><circle cx="218.50" cy="179.00" r="0.95"/><circle cx="223.00" cy="179.00" r="0.95"/><circle cx="214.80" cy="180.20" r="0.95"/><circle cx="218.50" cy="181.80" r="0.95"/><circle cx="223.00" cy="180.80" r="0.95"/><circle cx="220.80" cy="190.20" r="0.95"/><circle cx="220.80" cy="199.50" r="0.95"/><circle cx="220.80" cy="203.80" r="0.95"/></g>
<rect x="239.00" y="173.50" width="17.50" height="13.00" fill="none" stroke="#1f3a66" stroke-width="0.9"/>
<line x1="239.00" y1="179.50" x2="256.50" y2="179.50" stroke="#1f3a66" stroke-width="0.9"/>
<line x1="247.80" y1="153.00" x2="247.80" y2="173.50" stroke="#1f3a66" stroke-width="0.9"/>
<line x1="243.05" y1="153.00" x2="252.55" y2="153.00" stroke="#1f3a66" stroke-width="0.9"/>
<line x1="247.80" y1="186.50" x2="247.80" y2="203.80" stroke="#1f3a66" stroke-width="0.9"/>
<line x1="243.05" y1="203.80" x2="252.55" y2="203.80" stroke="#1f3a66" stroke-width="0.9"/>
<g fill="#173262"><circle cx="243.80" cy="152.80" r="1.1"/><circle cx="247.80" cy="153.80" r="1.1"/><circle cx="247.80" cy="162.20" r="1.1"/><circle cx="245.50" cy="167.80" r="1.1"/><circle cx="249.00" cy="167.80" r="1.1"/><circle cx="247.80" cy="170.40" r="1.1"/><circle cx="251.50" cy="170.40" r="1.1"/><circle cx="243.50" cy="173.80" r="1.1"/><circle cx="247.80" cy="173.80" r="1.1"/><circle cx="252.00" cy="173.80" r="1.1"/><circle cx="240.00" cy="176.00" r="1.1"/><circle cx="243.50" cy="176.00" r="1.1"/><circle cx="247.80" cy="176.00" r="1.1"/><circle cx="252.00" cy="176.00" r="1.1"/><circle cx="255.00" cy="176.00" r="1.1"/><circle cx="240.00" cy="178.50" r="1.1"/><circle cx="243.50" cy="178.50" r="1.1"/><circle cx="247.80" cy="178.50" r="1.1"/><circle cx="252.00" cy="178.50" r="1.1"/><circle cx="255.00" cy="178.50" r="1.1"/><circle cx="240.00" cy="181.50" r="1.1"/><circle cx="243.50" cy="181.50" r="1.1"/><circle cx="247.80" cy="181.50" r="1.1"/><circle cx="252.00" cy="181.50" r="1.1"/><circle cx="255.00" cy="181.50" r="1.1"/><circle cx="243.50" cy="184.00" r="1.1"/><circle cx="252.00" cy="184.00" r="1.1"/><circle cx="243.50" cy="187.00" r="1.1"/><circle cx="247.80" cy="187.00" r="1.1"/><circle cx="252.00" cy="187.00" r="1.1"/><circle cx="247.80" cy="193.00" r="1.1"/><circle cx="247.80" cy="201.00" r="1.1"/><circle cx="243.80" cy="203.80" r="1.1"/><circle cx="247.80" cy="203.80" r="1.1"/><circle cx="251.80" cy="203.80" r="1.1"/></g>
<rect x="283.40" y="147.30" width="17.50" height="30.80" fill="none" stroke="#e03a38" stroke-width="0.9"/>
<line x1="283.40" y1="164.80" x2="300.90" y2="164.80" stroke="#e03a38" stroke-width="0.9"/>
<line x1="292.20" y1="136.70" x2="292.20" y2="147.30" stroke="#e03a38" stroke-width="0.9"/>
<line x1="287.95" y1="136.70" x2="296.45" y2="136.70" stroke="#e03a38" stroke-width="0.9"/>
<line x1="292.20" y1="178.10" x2="292.20" y2="197.00" stroke="#e03a38" stroke-width="0.9"/>
<line x1="287.95" y1="197.00" x2="296.45" y2="197.00" stroke="#e03a38" stroke-width="0.9"/>
<g fill="#d7101c"><circle cx="292.20" cy="136.70" r="0.95"/><circle cx="292.20" cy="141.00" r="0.95"/><circle cx="292.20" cy="143.90" r="0.95"/><circle cx="292.20" cy="148.70" r="0.95"/><circle cx="296.70" cy="146.90" r="0.95"/><circle cx="292.20" cy="156.00" r="0.95"/><circle cx="290.20" cy="164.80" r="0.95"/><circle cx="294.10" cy="164.80" r="0.95"/><circle cx="292.20" cy="172.10" r="0.95"/><circle cx="288.10" cy="176.60" r="0.95"/><circle cx="292.20" cy="178.30" r="0.95"/><circle cx="296.40" cy="177.80" r="0.95"/><circle cx="292.20" cy="184.50" r="0.95"/><circle cx="292.20" cy="188.50" r="0.95"/><circle cx="292.20" cy="197.00" r="0.95"/></g>
<rect x="310.50" y="168.20" width="17.00" height="21.70" fill="none" stroke="#1f3a66" stroke-width="0.9"/>
<line x1="310.50" y1="174.90" x2="327.50" y2="174.90" stroke="#1f3a66" stroke-width="0.9"/>
<line x1="319.00" y1="150.10" x2="319.00" y2="168.20" stroke="#1f3a66" stroke-width="0.9"/>
<line x1="314.75" y1="150.10" x2="323.25" y2="150.10" stroke="#1f3a66" stroke-width="0.9"/>
<line x1="319.00" y1="189.90" x2="319.00" y2="203.80" stroke="#1f3a66" stroke-width="0.9"/>
<line x1="314.75" y1="203.80" x2="323.25" y2="203.80" stroke="#1f3a66" stroke-width="0.9"/>
<g fill="#173262"><circle cx="319.00" cy="150.10" r="1.1"/><circle cx="319.00" cy="157.10" r="1.1"/><circle cx="319.00" cy="162.70" r="1.1"/><circle cx="312.80" cy="167.00" r="1.1"/><circle cx="316.70" cy="168.20" r="1.1"/><circle cx="320.70" cy="166.00" r="1.1"/><circle cx="325.20" cy="165.50" r="1.1"/><circle cx="312.80" cy="168.70" r="1.1"/><circle cx="316.70" cy="169.80" r="1.1"/><circle cx="320.70" cy="170.40" r="1.1"/><circle cx="325.20" cy="168.40" r="1.1"/><circle cx="312.80" cy="174.00" r="1.1"/><circle cx="316.70" cy="174.90" r="1.1"/><circle cx="320.70" cy="174.40" r="1.1"/><circle cx="316.70" cy="179.50" r="1.1"/><circle cx="320.70" cy="178.30" r="1.1"/><circle cx="320.70" cy="180.00" r="1.1"/><circle cx="319.00" cy="182.30" r="1.1"/><circle cx="316.70" cy="184.90" r="1.1"/><circle cx="320.70" cy="186.00" r="1.1"/><circle cx="316.70" cy="190.50" r="1.1"/><circle cx="320.70" cy="190.50" r="1.1"/><circle cx="319.00" cy="196.60" r="1.1"/><circle cx="319.00" cy="200.90" r="1.1"/><circle cx="315.00" cy="203.60" r="1.1"/><circle cx="319.00" cy="203.60" r="1.1"/><circle cx="323.00" cy="203.60" r="1.1"/></g>
<path d="M220.80,146.10 V130.90 H247.80 V149.60" fill="none" stroke="#e03a38" stroke-width="0.9"/>
<text x="234.00" y="128.80" font-size="6.3" text-anchor="middle" fill="#2a2a2a" textLength="18.60" lengthAdjust="spacingAndGlyphs">0.9553</text>
<path d="M292.20,134.00 V130.90 H319.00 V147.00" fill="none" stroke="#e03a38" stroke-width="0.9"/>
<text x="305.00" y="128.50" font-size="6.3" text-anchor="middle" fill="#2a2a2a" textLength="18.60" lengthAdjust="spacingAndGlyphs">0.0136</text>
<line x1="371.70" y1="132.30" x2="371.70" y2="205.20" stroke="#2b2b2b" stroke-width="1.2"/>
<line x1="368.70" y1="204.60" x2="371.70" y2="204.60" stroke="#2b2b2b" stroke-width="1.0"/>
<text x="366.10" y="206.90" font-size="6.4" text-anchor="end" fill="#2a2a2a">0</text>
<line x1="368.70" y1="186.65" x2="371.70" y2="186.65" stroke="#2b2b2b" stroke-width="1.0"/>
<text x="366.10" y="188.95" font-size="6.4" text-anchor="end" fill="#2a2a2a">10</text>
<line x1="368.70" y1="168.70" x2="371.70" y2="168.70" stroke="#2b2b2b" stroke-width="1.0"/>
<text x="366.10" y="171.00" font-size="6.4" text-anchor="end" fill="#2a2a2a">20</text>
<line x1="368.70" y1="150.75" x2="371.70" y2="150.75" stroke="#2b2b2b" stroke-width="1.0"/>
<text x="366.10" y="153.05" font-size="6.4" text-anchor="end" fill="#2a2a2a">30</text>
<line x1="368.70" y1="132.80" x2="371.70" y2="132.80" stroke="#2b2b2b" stroke-width="1.0"/>
<text x="366.10" y="135.10" font-size="6.4" text-anchor="end" fill="#2a2a2a">40</text>
<line x1="371.10" y1="204.60" x2="505.30" y2="204.60" stroke="#2b2b2b" stroke-width="1.2"/>
<line x1="402.80" y1="204.60" x2="402.80" y2="207.20" stroke="#2b2b2b" stroke-width="0.9"/>
<text x="402.80" y="214.60" font-size="6.6" text-anchor="middle" fill="#2a2a2a" textLength="19.00" lengthAdjust="spacingAndGlyphs">Day 28</text>
<line x1="474.10" y1="204.60" x2="474.10" y2="207.20" stroke="#2b2b2b" stroke-width="0.9"/>
<text x="474.10" y="214.60" font-size="6.6" text-anchor="middle" fill="#2a2a2a" textLength="19.00" lengthAdjust="spacingAndGlyphs">Day 90</text>
<text x="435.60" y="121.20" font-size="6.9" text-anchor="middle" fill="#2a2a2a" textLength="118.70" lengthAdjust="spacingAndGlyphs">NK-cell (CD3-CD19-CD14-CD56+)</text>
<text transform="translate(353.40,168.00) rotate(-90)" x="0" y="0" font-size="8.2" text-anchor="middle" fill="#444" textLength="48.50" lengthAdjust="spacingAndGlyphs" font-weight="bold">Percent of CD56+</text>
<rect x="380.50" y="164.20" width="18.00" height="20.30" fill="none" stroke="#e03a38" stroke-width="0.9"/>
<line x1="380.50" y1="168.50" x2="398.50" y2="168.50" stroke="#e03a38" stroke-width="0.9"/>
<line x1="389.50" y1="144.30" x2="389.50" y2="164.20" stroke="#e03a38" stroke-width="0.9"/>
<line x1="385.15" y1="144.30" x2="393.85" y2="144.30" stroke="#e03a38" stroke-width="0.9"/>
<line x1="389.50" y1="184.50" x2="389.50" y2="196.40" stroke="#e03a38" stroke-width="0.9"/>
<line x1="385.15" y1="196.40" x2="393.85" y2="196.40" stroke="#e03a38" stroke-width="0.9"/>
<g fill="#d7101c"><circle cx="389.50" cy="144.30" r="0.95"/><circle cx="389.50" cy="162.40" r="0.95"/><circle cx="387.30" cy="165.30" r="0.95"/><circle cx="391.70" cy="166.60" r="0.95"/><circle cx="387.30" cy="169.00" r="0.95"/><circle cx="389.50" cy="173.30" r="0.95"/><circle cx="389.50" cy="176.90" r="0.95"/><circle cx="389.50" cy="193.20" r="0.95"/><circle cx="389.50" cy="196.40" r="0.95"/></g>
<rect x="407.70" y="165.50" width="17.10" height="26.00" fill="none" stroke="#1f3a66" stroke-width="0.9"/>
<line x1="407.70" y1="182.30" x2="424.80" y2="182.30" stroke="#1f3a66" stroke-width="0.9"/>
<line x1="416.30" y1="136.40" x2="416.30" y2="165.50" stroke="#1f3a66" stroke-width="0.9"/>
<line x1="411.80" y1="136.40" x2="420.80" y2="136.40" stroke="#1f3a66" stroke-width="0.9"/>
<line x1="416.30" y1="191.50" x2="416.30" y2="204.00" stroke="#1f3a66" stroke-width="0.9"/>
<line x1="411.80" y1="204.00" x2="420.80" y2="204.00" stroke="#1f3a66" stroke-width="0.9"/>
<g fill="#173262"><circle cx="416.30" cy="136.40" r="1.1"/><circle cx="416.30" cy="143.60" r="1.1"/><circle cx="413.90" cy="158.80" r="1.1"/><circle cx="418.00" cy="158.40" r="1.1"/><circle cx="422.40" cy="158.00" r="1.1"/><circle cx="422.40" cy="162.80" r="1.1"/><circle cx="413.90" cy="164.80" r="1.1"/><circle cx="418.00" cy="164.80" r="1.1"/><circle cx="416.30" cy="169.00" r="1.1"/><circle cx="413.90" cy="174.00" r="1.1"/><circle cx="418.00" cy="172.50" r="1.1"/><circle cx="416.30" cy="178.00" r="1.1"/><circle cx="413.90" cy="181.20" r="1.1"/><circle cx="418.00" cy="183.50" r="1.1"/><circle cx="413.90" cy="184.20" r="1.1"/><circle cx="413.90" cy="187.00" r="1.1"/><circle cx="418.00" cy="185.10" r="1.1"/><circle cx="422.10" cy="183.40" r="1.1"/><circle cx="422.10" cy="185.10" r="1.1"/><circle cx="410.10" cy="193.20" r="1.1"/><circle cx="413.90" cy="193.20" r="1.1"/><circle cx="418.00" cy="193.20" r="1.1"/><circle cx="422.10" cy="193.20" r="1.1"/><circle cx="413.90" cy="196.80" r="1.1"/><circle cx="418.00" cy="196.80" r="1.1"/><circle cx="413.90" cy="203.50" r="1.1"/><circle cx="416.30" cy="203.50" r="1.1"/><circle cx="418.80" cy="203.50" r="1.1"/></g>
<rect x="452.30" y="165.50" width="17.20" height="14.80" fill="none" stroke="#e03a38" stroke-width="0.9"/>
<line x1="452.30" y1="177.80" x2="469.50" y2="177.80" stroke="#e03a38" stroke-width="0.9"/>
<line x1="460.60" y1="147.90" x2="460.60" y2="165.50" stroke="#e03a38" stroke-width="0.9"/>
<line x1="456.35" y1="147.90" x2="464.85" y2="147.90" stroke="#e03a38" stroke-width="0.9"/>
<line x1="460.60" y1="180.30" x2="460.60" y2="191.30" stroke="#e03a38" stroke-width="0.9"/>
<line x1="456.35" y1="191.30" x2="464.85" y2="191.30" stroke="#e03a38" stroke-width="0.9"/>
<g fill="#d7101c"><circle cx="460.60" cy="147.90" r="0.95"/><circle cx="460.60" cy="164.90" r="0.95"/><circle cx="456.70" cy="165.90" r="0.95"/><circle cx="460.60" cy="168.00" r="0.95"/><circle cx="456.70" cy="177.80" r="0.95"/><circle cx="460.60" cy="177.80" r="0.95"/><circle cx="464.90" cy="177.80" r="0.95"/><circle cx="460.60" cy="180.00" r="0.95"/><circle cx="460.60" cy="182.30" r="0.95"/><circle cx="460.60" cy="191.30" r="0.95"/></g>
<rect x="479.30" y="158.00" width="16.90" height="24.10" fill="none" stroke="#1f3a66" stroke-width="0.9"/>
<line x1="479.30" y1="179.50" x2="496.20" y2="179.50" stroke="#1f3a66" stroke-width="0.9"/>
<line x1="487.70" y1="142.60" x2="487.70" y2="158.00" stroke="#1f3a66" stroke-width="0.9"/>
<line x1="483.20" y1="142.60" x2="492.20" y2="142.60" stroke="#1f3a66" stroke-width="0.9"/>
<line x1="487.70" y1="182.10" x2="487.70" y2="199.50" stroke="#1f3a66" stroke-width="0.9"/>
<line x1="483.20" y1="199.50" x2="492.20" y2="199.50" stroke="#1f3a66" stroke-width="0.9"/>
<g fill="#173262"><circle cx="487.70" cy="142.60" r="1.1"/><circle cx="487.70" cy="149.30" r="1.1"/><circle cx="483.40" cy="153.40" r="1.1"/><circle cx="487.70" cy="154.90" r="1.1"/><circle cx="491.60" cy="151.50" r="1.1"/><circle cx="491.60" cy="157.00" r="1.1"/><circle cx="487.70" cy="158.50" r="1.1"/><circle cx="487.70" cy="162.10" r="1.1"/><circle cx="487.70" cy="169.30" r="1.1"/><circle cx="485.40" cy="174.90" r="1.1"/><circle cx="489.50" cy="173.40" r="1.1"/><circle cx="479.80" cy="179.50" r="1.1"/><circle cx="483.40" cy="179.50" r="1.1"/><circle cx="487.70" cy="179.50" r="1.1"/><circle cx="491.60" cy="179.50" r="1.1"/><circle cx="495.40" cy="179.50" r="1.1"/><circle cx="479.80" cy="182.40" r="1.1"/><circle cx="483.40" cy="182.40" r="1.1"/><circle cx="487.70" cy="182.40" r="1.1"/><circle cx="491.60" cy="182.40" r="1.1"/><circle cx="495.40" cy="182.40" r="1.1"/><circle cx="483.40" cy="184.70" r="1.1"/><circle cx="491.60" cy="186.20" r="1.1"/><circle cx="487.70" cy="188.30" r="1.1"/><circle cx="487.70" cy="193.40" r="1.1"/><circle cx="487.70" cy="199.50" r="1.1"/></g>
<path d="M389.50,141.00 V130.20 H416.30 V134.00" fill="none" stroke="#e03a38" stroke-width="0.9"/>
<text x="402.00" y="127.60" font-size="6.3" text-anchor="middle" fill="#2a2a2a" textLength="18.60" lengthAdjust="spacingAndGlyphs">0.5800</text>
<path d="M460.60,144.40 V130.60 H487.70 V139.20" fill="none" stroke="#e03a38" stroke-width="0.9"/>
<text x="473.30" y="127.60" font-size="6.3" text-anchor="middle" fill="#2a2a2a" textLength="18.60" lengthAdjust="spacingAndGlyphs">0.9975</text>
<line x1="34.10" y1="237.00" x2="34.10" y2="309.90" stroke="#2b2b2b" stroke-width="1.2"/>
<line x1="31.10" y1="309.30" x2="34.10" y2="309.30" stroke="#2b2b2b" stroke-width="1.0"/>
<text x="28.50" y="311.60" font-size="6.4" text-anchor="end" fill="#2a2a2a">0</text>
<line x1="31.10" y1="294.94" x2="34.10" y2="294.94" stroke="#2b2b2b" stroke-width="1.0"/>
<text x="28.50" y="297.24" font-size="6.4" text-anchor="end" fill="#2a2a2a">20</text>
<line x1="31.10" y1="280.58" x2="34.10" y2="280.58" stroke="#2b2b2b" stroke-width="1.0"/>
<text x="28.50" y="282.88" font-size="6.4" text-anchor="end" fill="#2a2a2a">40</text>
<line x1="31.10" y1="266.22" x2="34.10" y2="266.22" stroke="#2b2b2b" stroke-width="1.0"/>
<text x="28.50" y="268.52" font-size="6.4" text-anchor="end" fill="#2a2a2a">60</text>
<line x1="31.10" y1="251.86" x2="34.10" y2="251.86" stroke="#2b2b2b" stroke-width="1.0"/>
<text x="28.50" y="254.16" font-size="6.4" text-anchor="end" fill="#2a2a2a">80</text>
<line x1="31.10" y1="237.50" x2="34.10" y2="237.50" stroke="#2b2b2b" stroke-width="1.0"/>
<text x="28.50" y="239.80" font-size="6.4" text-anchor="end" fill="#2a2a2a">100</text>
<line x1="33.50" y1="309.30" x2="168.20" y2="309.30" stroke="#2b2b2b" stroke-width="1.2"/>
<line x1="65.40" y1="309.30" x2="65.40" y2="311.90" stroke="#2b2b2b" stroke-width="0.9"/>
<text x="65.40" y="320.00" font-size="6.6" text-anchor="middle" fill="#2a2a2a" textLength="19.00" lengthAdjust="spacingAndGlyphs">Day 28</text>
<line x1="137.00" y1="309.30" x2="137.00" y2="311.90" stroke="#2b2b2b" stroke-width="0.9"/>
<text x="137.00" y="320.00" font-size="6.6" text-anchor="middle" fill="#2a2a2a" textLength="19.00" lengthAdjust="spacingAndGlyphs">Day 90</text>
<text x="96.80" y="229.00" font-size="6.9" text-anchor="middle" fill="#2a2a2a" textLength="131.50" lengthAdjust="spacingAndGlyphs">Monocytes (CD3-CD19-CD56-CD14+)</text>
<text transform="translate(15.80,275.50) rotate(-90)" x="0" y="0" font-size="8.2" text-anchor="middle" fill="#444" textLength="47.00" lengthAdjust="spacingAndGlyphs" font-weight="bold">Percent of CD14+</text>
<rect x="43.50" y="289.00" width="17.30" height="15.50" fill="none" stroke="#e03a38" stroke-width="0.9"/>
<line x1="43.50" y1="297.00" x2="60.80" y2="297.00" stroke="#e03a38" stroke-width="0.9"/>
<line x1="52.20" y1="263.00" x2="52.20" y2="289.00" stroke="#e03a38" stroke-width="0.9"/>
<line x1="47.95" y1="263.00" x2="56.45" y2="263.00" stroke="#e03a38" stroke-width="0.9"/>
<line x1="52.20" y1="304.50" x2="52.20" y2="306.00" stroke="#e03a38" stroke-width="0.9"/>
<line x1="47.95" y1="306.00" x2="56.45" y2="306.00" stroke="#e03a38" stroke-width="0.9"/>
<g fill="#d7101c"><circle cx="52.20" cy="263.00" r="0.95"/><circle cx="52.20" cy="287.50" r="0.95"/><circle cx="52.20" cy="290.00" r="0.95"/><circle cx="48.20" cy="297.00" r="0.95"/><circle cx="52.20" cy="297.00" r="0.95"/><circle cx="56.50" cy="297.00" r="0.95"/><circle cx="52.20" cy="304.50" r="0.95"/><circle cx="48.20" cy="306.80" r="0.95"/><circle cx="52.20" cy="305.50" r="0.95"/><circle cx="56.00" cy="305.80" r="0.95"/></g>
<rect x="70.50" y="286.50" width="17.00" height="16.50" fill="none" stroke="#1f3a66" stroke-width="0.9"/>
<line x1="70.50" y1="296.30" x2="87.50" y2="296.30" stroke="#1f3a66" stroke-width="0.9"/>
<line x1="78.80" y1="252.80" x2="78.80" y2="286.50" stroke="#1f3a66" stroke-width="0.9"/>
<line x1="74.30" y1="252.80" x2="83.30" y2="252.80" stroke="#1f3a66" stroke-width="0.9"/>
<line x1="78.80" y1="303.00" x2="78.80" y2="308.50" stroke="#1f3a66" stroke-width="0.9"/>
<line x1="74.30" y1="308.50" x2="83.30" y2="308.50" stroke="#1f3a66" stroke-width="0.9"/>
<g fill="#173262"><circle cx="78.80" cy="252.80" r="1.1"/><circle cx="77.50" cy="262.00" r="1.1"/><circle cx="80.00" cy="262.00" r="1.1"/><circle cx="76.20" cy="276.50" r="1.1"/><circle cx="78.80" cy="276.50" r="1.1"/><circle cx="78.80" cy="282.50" r="1.1"/><circle cx="78.80" cy="286.50" r="1.1"/><circle cx="78.80" cy="290.50" r="1.1"/><circle cx="80.50" cy="292.50" r="1.1"/><circle cx="74.00" cy="294.70" r="1.1"/><circle cx="76.20" cy="295.00" r="1.1"/><circle cx="78.80" cy="295.50" r="1.1"/><circle cx="82.00" cy="294.80" r="1.1"/><circle cx="84.00" cy="296.20" r="1.1"/><circle cx="74.00" cy="297.20" r="1.1"/><circle cx="76.20" cy="297.20" r="1.1"/><circle cx="78.80" cy="297.20" r="1.1"/><circle cx="81.00" cy="297.20" r="1.1"/><circle cx="84.00" cy="297.80" r="1.1"/><circle cx="76.20" cy="299.20" r="1.1"/><circle cx="78.80" cy="299.20" r="1.1"/><circle cx="71.00" cy="302.80" r="1.1"/><circle cx="74.00" cy="302.80" r="1.1"/><circle cx="76.20" cy="302.80" r="1.1"/><circle cx="78.80" cy="302.80" r="1.1"/><circle cx="81.00" cy="302.80" r="1.1"/><circle cx="84.00" cy="302.80" r="1.1"/><circle cx="86.50" cy="302.80" r="1.1"/><circle cx="78.80" cy="305.20" r="1.1"/><circle cx="78.80" cy="308.50" r="1.1"/></g>
<rect x="115.20" y="283.20" width="17.00" height="17.60" fill="none" stroke="#e03a38" stroke-width="0.9"/>
<line x1="115.20" y1="293.80" x2="132.20" y2="293.80" stroke="#e03a38" stroke-width="0.9"/>
<line x1="123.50" y1="277.00" x2="123.50" y2="283.20" stroke="#e03a38" stroke-width="0.9"/>
<line x1="119.25" y1="277.00" x2="127.75" y2="277.00" stroke="#e03a38" stroke-width="0.9"/>
<g fill="#d7101c"><circle cx="123.50" cy="277.00" r="0.95"/><circle cx="123.50" cy="281.20" r="0.95"/><circle cx="123.50" cy="285.00" r="0.95"/><circle cx="119.50" cy="292.50" r="0.95"/><circle cx="119.50" cy="293.80" r="0.95"/><circle cx="123.50" cy="293.80" r="0.95"/><circle cx="127.50" cy="293.80" r="0.95"/><circle cx="119.50" cy="300.80" r="0.95"/><circle cx="123.50" cy="300.80" r="0.95"/><circle cx="127.50" cy="300.80" r="0.95"/></g>
<rect x="141.80" y="290.80" width="17.40" height="12.70" fill="none" stroke="#1f3a66" stroke-width="0.9"/>
<line x1="141.80" y1="296.50" x2="159.20" y2="296.50" stroke="#1f3a66" stroke-width="0.9"/>
<line x1="150.20" y1="271.80" x2="150.20" y2="290.80" stroke="#1f3a66" stroke-width="0.9"/>
<line x1="145.95" y1="271.80" x2="154.45" y2="271.80" stroke="#1f3a66" stroke-width="0.9"/>
<line x1="150.20" y1="303.50" x2="150.20" y2="307.20" stroke="#1f3a66" stroke-width="0.9"/>
<line x1="145.95" y1="307.20" x2="154.45" y2="307.20" stroke="#1f3a66" stroke-width="0.9"/>
<g fill="#173262"><circle cx="150.20" cy="271.80" r="1.1"/><circle cx="150.20" cy="281.20" r="1.1"/><circle cx="150.20" cy="283.00" r="1.1"/><circle cx="148.50" cy="288.80" r="1.1"/><circle cx="152.00" cy="289.80" r="1.1"/><circle cx="143.00" cy="290.80" r="1.1"/><circle cx="145.50" cy="290.80" r="1.1"/><circle cx="148.50" cy="290.80" r="1.1"/><circle cx="152.00" cy="290.80" r="1.1"/><circle cx="155.50" cy="290.80" r="1.1"/><circle cx="158.50" cy="290.80" r="1.1"/><circle cx="143.00" cy="294.00" r="1.1"/><circle cx="152.00" cy="294.00" r="1.1"/><circle cx="155.50" cy="294.00" r="1.1"/><circle cx="143.00" cy="296.50" r="1.1"/><circle cx="145.50" cy="296.50" r="1.1"/><circle cx="148.50" cy="296.50" r="1.1"/><circle cx="152.00" cy="296.50" r="1.1"/><circle cx="155.50" cy="296.50" r="1.1"/><circle cx="158.50" cy="296.50" r="1.1"/><circle cx="143.00" cy="299.50" r="1.1"/><circle cx="145.50" cy="299.50" r="1.1"/><circle cx="148.50" cy="299.50" r="1.1"/><circle cx="152.00" cy="299.50" r="1.1"/><circle cx="155.50" cy="299.50" r="1.1"/><circle cx="158.50" cy="299.50" r="1.1"/><circle cx="142.00" cy="302.20" r="1.1"/><circle cx="148.50" cy="302.20" r="1.1"/><circle cx="151.00" cy="302.20" r="1.1"/><circle cx="153.00" cy="302.20" r="1.1"/><circle cx="148.50" cy="304.00" r="1.1"/><circle cx="151.00" cy="304.00" r="1.1"/><circle cx="150.20" cy="307.20" r="1.1"/></g>
<path d="M52.20,259.50 V246.10 H78.80 V249.60" fill="none" stroke="#e03a38" stroke-width="0.9"/>
<text x="65.40" y="244.00" font-size="6.3" text-anchor="middle" fill="#2a2a2a" textLength="18.60" lengthAdjust="spacingAndGlyphs">0.8854</text>
<path d="M123.50,273.80 V246.10 H150.20 V268.60" fill="none" stroke="#e03a38" stroke-width="0.9"/>
<text x="136.70" y="244.00" font-size="6.3" text-anchor="middle" fill="#2a2a2a" textLength="18.60" lengthAdjust="spacingAndGlyphs">0.5832</text>
<circle cx="194.8" cy="245.9" r="0.9" fill="#d7101c"/>
<circle cx="194.8" cy="254.2" r="0.9" fill="#173262"/>
<text x="201.50" y="248.10" font-size="6.9" text-anchor="start" fill="#2a2a2a" textLength="19.30" lengthAdjust="spacingAndGlyphs">Control</text>
<text x="201.90" y="256.50" font-size="6.9" text-anchor="start" fill="#2a2a2a" textLength="25.20" lengthAdjust="spacingAndGlyphs">Treatment</text>
<line x1="39.40" y1="342.90" x2="39.40" y2="394.80" stroke="#2b2b2b" stroke-width="1.2"/>
<line x1="36.40" y1="394.20" x2="39.40" y2="394.20" stroke="#2b2b2b" stroke-width="1.0"/>
<text x="33.80" y="396.54" font-size="6.5" text-anchor="end" fill="#2a2a2a" textLength="3.64" lengthAdjust="spacingAndGlyphs">0</text>
<line x1="36.40" y1="381.50" x2="39.40" y2="381.50" stroke="#2b2b2b" stroke-width="1.0"/>
<text x="33.80" y="383.84" font-size="6.5" text-anchor="end" fill="#2a2a2a" textLength="18.20" lengthAdjust="spacingAndGlyphs">10000</text>
<line x1="36.40" y1="368.80" x2="39.40" y2="368.80" stroke="#2b2b2b" stroke-width="1.0"/>
<text x="33.80" y="371.14" font-size="6.5" text-anchor="end" fill="#2a2a2a" textLength="18.20" lengthAdjust="spacingAndGlyphs">20000</text>
<line x1="36.40" y1="356.10" x2="39.40" y2="356.10" stroke="#2b2b2b" stroke-width="1.0"/>
<text x="33.80" y="358.44" font-size="6.5" text-anchor="end" fill="#2a2a2a" textLength="18.20" lengthAdjust="spacingAndGlyphs">30000</text>
<line x1="36.40" y1="343.40" x2="39.40" y2="343.40" stroke="#2b2b2b" stroke-width="1.0"/>
<text x="33.80" y="345.74" font-size="6.5" text-anchor="end" fill="#2a2a2a" textLength="18.20" lengthAdjust="spacingAndGlyphs">40000</text>
<line x1="38.80" y1="394.20" x2="181.70" y2="394.20" stroke="#2b2b2b" stroke-width="1.2"/>
<line x1="70.90" y1="394.20" x2="70.90" y2="396.80" stroke="#2b2b2b" stroke-width="0.9"/>
<text x="70.90" y="405.60" font-size="6.6" text-anchor="middle" fill="#2a2a2a" textLength="19.40" lengthAdjust="spacingAndGlyphs">Day 15</text>
<line x1="147.80" y1="394.20" x2="147.80" y2="396.80" stroke="#2b2b2b" stroke-width="0.9"/>
<text x="147.80" y="405.60" font-size="6.6" text-anchor="middle" fill="#2a2a2a" textLength="19.40" lengthAdjust="spacingAndGlyphs">Day 28</text>
<text x="102.80" y="333.40" font-size="9.0" text-anchor="middle" fill="#2a2a2a" textLength="100.00" lengthAdjust="spacingAndGlyphs">Total CD8+ (CD3+CD4-)</text>
<text transform="translate(12.80,368.80) rotate(-90)" x="0" y="0" font-size="8.2" text-anchor="middle" fill="#444" textLength="32.50" lengthAdjust="spacingAndGlyphs" font-weight="bold">acH3 (MFI)</text>
<rect x="47.30" y="373.10" width="17.80" height="11.30" fill="none" stroke="#e03a38" stroke-width="0.9"/>
<line x1="47.30" y1="377.30" x2="65.10" y2="377.30" stroke="#e03a38" stroke-width="0.9"/>
<line x1="56.40" y1="367.50" x2="56.40" y2="373.10" stroke="#e03a38" stroke-width="0.9"/>
<line x1="52.70" y1="367.50" x2="60.10" y2="367.50" stroke="#e03a38" stroke-width="0.9"/>
<line x1="56.40" y1="384.40" x2="56.40" y2="393.40" stroke="#e03a38" stroke-width="0.9"/>
<line x1="52.70" y1="393.40" x2="60.10" y2="393.40" stroke="#e03a38" stroke-width="0.9"/>
<g fill="#d7101c"><circle cx="56.40" cy="367.50" r="0.95"/><circle cx="50.30" cy="369.00" r="0.95"/><circle cx="54.30" cy="369.00" r="0.95"/><circle cx="58.50" cy="369.00" r="0.95"/><circle cx="58.50" cy="370.60" r="0.95"/><circle cx="48.20" cy="374.10" r="0.95"/><circle cx="50.50" cy="374.10" r="0.95"/><circle cx="54.30" cy="374.10" r="0.95"/><circle cx="58.50" cy="374.10" r="0.95"/><circle cx="61.90" cy="374.10" r="0.95"/><circle cx="64.60" cy="374.10" r="0.95"/><circle cx="54.30" cy="378.00" r="0.95"/><circle cx="58.50" cy="378.00" r="0.95"/><circle cx="62.50" cy="378.00" r="0.95"/><circle cx="54.30" cy="379.80" r="0.95"/><circle cx="58.50" cy="381.20" r="0.95"/><circle cx="54.30" cy="386.50" r="0.95"/><circle cx="58.50" cy="386.50" r="0.95"/><circle cx="56.40" cy="390.00" r="0.95"/><circle cx="56.40" cy="393.40" r="0.95"/></g>
<rect x="76.20" y="369.90" width="18.30" height="12.40" fill="none" stroke="#1f3a66" stroke-width="0.9"/>
<line x1="76.20" y1="377.00" x2="94.50" y2="377.00" stroke="#1f3a66" stroke-width="0.9"/>
<line x1="85.00" y1="355.10" x2="85.00" y2="369.90" stroke="#1f3a66" stroke-width="0.9"/>
<line x1="80.80" y1="355.10" x2="89.20" y2="355.10" stroke="#1f3a66" stroke-width="0.9"/>
<line x1="85.00" y1="382.30" x2="85.00" y2="393.40" stroke="#1f3a66" stroke-width="0.9"/>
<line x1="80.80" y1="393.40" x2="89.20" y2="393.40" stroke="#1f3a66" stroke-width="0.9"/>
<g fill="#173262"><circle cx="85.00" cy="355.10" r="1.1"/><circle cx="80.10" cy="364.80" r="1.1"/><circle cx="90.50" cy="364.80" r="1.1"/><circle cx="80.10" cy="366.70" r="1.1"/><circle cx="87.10" cy="366.70" r="1.1"/><circle cx="83.60" cy="368.80" r="1.1"/><circle cx="85.70" cy="368.80" r="1.1"/><circle cx="77.30" cy="372.40" r="1.1"/><circle cx="80.10" cy="372.40" r="1.1"/><circle cx="83.60" cy="372.40" r="1.1"/><circle cx="87.10" cy="372.40" r="1.1"/><circle cx="90.50" cy="372.40" r="1.1"/><circle cx="93.10" cy="372.40" r="1.1"/><circle cx="80.10" cy="374.60" r="1.1"/><circle cx="83.60" cy="374.60" r="1.1"/><circle cx="87.10" cy="374.60" r="1.1"/><circle cx="90.50" cy="374.60" r="1.1"/><circle cx="77.30" cy="378.40" r="1.1"/><circle cx="80.10" cy="378.40" r="1.1"/><circle cx="83.60" cy="378.40" r="1.1"/><circle cx="87.10" cy="378.40" r="1.1"/><circle cx="90.50" cy="378.40" r="1.1"/><circle cx="77.30" cy="380.70" r="1.1"/><circle cx="80.10" cy="380.70" r="1.1"/><circle cx="83.60" cy="380.70" r="1.1"/><circle cx="87.10" cy="380.70" r="1.1"/><circle cx="90.50" cy="380.70" r="1.1"/><circle cx="93.60" cy="380.70" r="1.1"/><circle cx="85.00" cy="384.40" r="1.1"/><circle cx="87.10" cy="384.40" r="1.1"/><circle cx="85.00" cy="386.50" r="1.1"/><circle cx="85.00" cy="388.60" r="1.1"/><circle cx="85.00" cy="390.70" r="1.1"/><circle cx="81.50" cy="393.20" r="1.1"/><circle cx="85.00" cy="393.20" r="1.1"/><circle cx="88.90" cy="393.20" r="1.1"/></g>
<rect x="124.40" y="376.20" width="18.40" height="8.70" fill="none" stroke="#e03a38" stroke-width="0.9"/>
<line x1="124.40" y1="381.20" x2="142.80" y2="381.20" stroke="#e03a38" stroke-width="0.9"/>
<line x1="133.40" y1="365.00" x2="133.40" y2="376.20" stroke="#e03a38" stroke-width="0.9"/>
<line x1="129.15" y1="365.00" x2="137.65" y2="365.00" stroke="#e03a38" stroke-width="0.9"/>
<line x1="133.40" y1="384.90" x2="133.40" y2="389.70" stroke="#e03a38" stroke-width="0.9"/>
<line x1="129.15" y1="389.70" x2="137.65" y2="389.70" stroke="#e03a38" stroke-width="0.9"/>
<g fill="#d7101c"><circle cx="133.40" cy="365.00" r="0.95"/><circle cx="133.40" cy="368.50" r="0.95"/><circle cx="131.40" cy="372.80" r="0.95"/><circle cx="135.90" cy="372.00" r="0.95"/><circle cx="131.40" cy="377.30" r="0.95"/><circle cx="127.40" cy="378.60" r="0.95"/><circle cx="131.40" cy="378.60" r="0.95"/><circle cx="135.70" cy="378.60" r="0.95"/><circle cx="139.60" cy="378.60" r="0.95"/><circle cx="127.40" cy="381.10" r="0.95"/><circle cx="131.40" cy="381.10" r="0.95"/><circle cx="135.70" cy="381.10" r="0.95"/><circle cx="139.60" cy="381.10" r="0.95"/><circle cx="127.40" cy="383.60" r="0.95"/><circle cx="131.40" cy="383.60" r="0.95"/><circle cx="135.70" cy="383.60" r="0.95"/><circle cx="139.60" cy="383.60" r="0.95"/><circle cx="127.40" cy="386.00" r="0.95"/><circle cx="131.40" cy="386.00" r="0.95"/><circle cx="135.70" cy="386.00" r="0.95"/><circle cx="139.60" cy="386.00" r="0.95"/><circle cx="133.40" cy="389.70" r="0.95"/></g>
<rect x="153.00" y="369.00" width="18.90" height="15.40" fill="none" stroke="#1f3a66" stroke-width="0.9"/>
<line x1="153.00" y1="374.60" x2="171.90" y2="374.60" stroke="#1f3a66" stroke-width="0.9"/>
<line x1="162.30" y1="357.90" x2="162.30" y2="369.00" stroke="#1f3a66" stroke-width="0.9"/>
<line x1="158.05" y1="357.90" x2="166.55" y2="357.90" stroke="#1f3a66" stroke-width="0.9"/>
<line x1="162.30" y1="384.40" x2="162.30" y2="393.60" stroke="#1f3a66" stroke-width="0.9"/>
<line x1="158.05" y1="393.60" x2="166.55" y2="393.60" stroke="#1f3a66" stroke-width="0.9"/>
<g fill="#173262"><circle cx="160.20" cy="357.90" r="1.1"/><circle cx="164.20" cy="357.90" r="1.1"/><circle cx="160.20" cy="360.40" r="1.1"/><circle cx="164.20" cy="360.40" r="1.1"/><circle cx="160.20" cy="365.90" r="1.1"/><circle cx="164.20" cy="365.90" r="1.1"/><circle cx="153.90" cy="369.30" r="1.1"/><circle cx="157.00" cy="369.30" r="1.1"/><circle cx="160.70" cy="369.30" r="1.1"/><circle cx="164.20" cy="369.30" r="1.1"/><circle cx="167.60" cy="369.30" r="1.1"/><circle cx="171.00" cy="369.30" r="1.1"/><circle cx="157.00" cy="373.60" r="1.1"/><circle cx="160.70" cy="373.60" r="1.1"/><circle cx="164.20" cy="373.60" r="1.1"/><circle cx="167.60" cy="373.60" r="1.1"/><circle cx="157.00" cy="376.60" r="1.1"/><circle cx="160.70" cy="376.60" r="1.1"/><circle cx="164.20" cy="376.60" r="1.1"/><circle cx="167.60" cy="376.60" r="1.1"/><circle cx="162.30" cy="380.20" r="1.1"/><circle cx="160.70" cy="383.00" r="1.1"/><circle cx="164.20" cy="383.00" r="1.1"/><circle cx="160.70" cy="386.50" r="1.1"/><circle cx="164.20" cy="386.50" r="1.1"/><circle cx="157.00" cy="390.40" r="1.1"/><circle cx="160.70" cy="390.40" r="1.1"/><circle cx="164.20" cy="390.40" r="1.1"/><circle cx="167.60" cy="390.40" r="1.1"/><circle cx="162.30" cy="393.60" r="1.1"/></g>
<path d="M56.40,365.00 V349.40 H85.00 V352.90" fill="none" stroke="#e03a38" stroke-width="0.9"/>
<text x="69.70" y="347.60" font-size="6.3" text-anchor="middle" fill="#2a2a2a" textLength="18.60" lengthAdjust="spacingAndGlyphs">0.8221</text>
<path d="M133.40,362.40 V349.30 H162.30 V354.30" fill="none" stroke="#e03a38" stroke-width="0.9"/>
<text x="147.40" y="347.20" font-size="6.3" text-anchor="middle" fill="#2a2a2a" textLength="18.60" lengthAdjust="spacingAndGlyphs">0.1588</text>
<line x1="209.00" y1="343.10" x2="209.00" y2="394.70" stroke="#2b2b2b" stroke-width="1.2"/>
<line x1="206.00" y1="394.10" x2="209.00" y2="394.10" stroke="#2b2b2b" stroke-width="1.0"/>
<text x="203.40" y="396.44" font-size="6.5" text-anchor="end" fill="#2a2a2a" textLength="3.62" lengthAdjust="spacingAndGlyphs">0</text>
<line x1="206.00" y1="385.68" x2="209.00" y2="385.68" stroke="#2b2b2b" stroke-width="1.0"/>
<text x="203.40" y="388.02" font-size="6.5" text-anchor="end" fill="#2a2a2a" textLength="18.10" lengthAdjust="spacingAndGlyphs">10000</text>
<line x1="206.00" y1="377.27" x2="209.00" y2="377.27" stroke="#2b2b2b" stroke-width="1.0"/>
<text x="203.40" y="379.61" font-size="6.5" text-anchor="end" fill="#2a2a2a" textLength="18.10" lengthAdjust="spacingAndGlyphs">20000</text>
<line x1="206.00" y1="368.85" x2="209.00" y2="368.85" stroke="#2b2b2b" stroke-width="1.0"/>
<text x="203.40" y="371.19" font-size="6.5" text-anchor="end" fill="#2a2a2a" textLength="18.10" lengthAdjust="spacingAndGlyphs">30000</text>
<line x1="206.00" y1="360.43" x2="209.00" y2="360.43" stroke="#2b2b2b" stroke-width="1.0"/>
<text x="203.40" y="362.77" font-size="6.5" text-anchor="end" fill="#2a2a2a" textLength="18.10" lengthAdjust="spacingAndGlyphs">40000</text>
<line x1="206.00" y1="352.02" x2="209.00" y2="352.02" stroke="#2b2b2b" stroke-width="1.0"/>
<text x="203.40" y="354.36" font-size="6.5" text-anchor="end" fill="#2a2a2a" textLength="18.10" lengthAdjust="spacingAndGlyphs">50000</text>
<line x1="206.00" y1="343.60" x2="209.00" y2="343.60" stroke="#2b2b2b" stroke-width="1.0"/>
<text x="203.40" y="345.94" font-size="6.5" text-anchor="end" fill="#2a2a2a" textLength="18.10" lengthAdjust="spacingAndGlyphs">60000</text>
<line x1="208.40" y1="394.10" x2="345.80" y2="394.10" stroke="#2b2b2b" stroke-width="1.2"/>
<line x1="239.50" y1="394.10" x2="239.50" y2="396.70" stroke="#2b2b2b" stroke-width="0.9"/>
<text x="239.50" y="405.60" font-size="6.6" text-anchor="middle" fill="#2a2a2a" textLength="19.40" lengthAdjust="spacingAndGlyphs">Day 15</text>
<line x1="316.40" y1="394.10" x2="316.40" y2="396.70" stroke="#2b2b2b" stroke-width="0.9"/>
<text x="316.40" y="405.60" font-size="6.6" text-anchor="middle" fill="#2a2a2a" textLength="19.40" lengthAdjust="spacingAndGlyphs">Day 28</text>
<text x="277.05" y="333.40" font-size="9.0" text-anchor="middle" fill="#2a2a2a" textLength="103.70" lengthAdjust="spacingAndGlyphs">Total CD4+ (CD3+CD4+)</text>
<text transform="translate(182.60,368.80) rotate(-90)" x="0" y="0" font-size="8.2" text-anchor="middle" fill="#444" textLength="32.50" lengthAdjust="spacingAndGlyphs" font-weight="bold">acH3 (MFI)</text>
<rect x="215.40" y="371.50" width="19.40" height="7.00" fill="none" stroke="#e03a38" stroke-width="0.9"/>
<line x1="215.40" y1="375.00" x2="234.80" y2="375.00" stroke="#e03a38" stroke-width="0.9"/>
<line x1="224.90" y1="368.10" x2="224.90" y2="371.50" stroke="#e03a38" stroke-width="0.9"/>
<line x1="220.65" y1="368.10" x2="229.15" y2="368.10" stroke="#e03a38" stroke-width="0.9"/>
<line x1="224.90" y1="378.50" x2="224.90" y2="386.60" stroke="#e03a38" stroke-width="0.9"/>
<line x1="220.65" y1="386.60" x2="229.15" y2="386.60" stroke="#e03a38" stroke-width="0.9"/>
<g fill="#d7101c"><circle cx="218.90" cy="368.10" r="0.95"/><circle cx="222.60" cy="368.10" r="0.95"/><circle cx="227.30" cy="368.10" r="0.95"/><circle cx="231.00" cy="368.10" r="0.95"/><circle cx="222.60" cy="370.00" r="0.95"/><circle cx="224.90" cy="370.00" r="0.95"/><circle cx="216.80" cy="373.20" r="0.95"/><circle cx="218.90" cy="373.20" r="0.95"/><circle cx="222.60" cy="373.20" r="0.95"/><circle cx="224.90" cy="373.20" r="0.95"/><circle cx="227.30" cy="373.20" r="0.95"/><circle cx="231.00" cy="373.20" r="0.95"/><circle cx="218.90" cy="375.00" r="0.95"/><circle cx="222.60" cy="375.00" r="0.95"/><circle cx="227.30" cy="375.00" r="0.95"/><circle cx="231.50" cy="375.00" r="0.95"/><circle cx="216.80" cy="376.40" r="0.95"/><circle cx="218.90" cy="376.40" r="0.95"/><circle cx="222.60" cy="376.40" r="0.95"/><circle cx="224.90" cy="376.40" r="0.95"/><circle cx="227.30" cy="376.40" r="0.95"/><circle cx="231.50" cy="376.40" r="0.95"/><circle cx="222.60" cy="380.60" r="0.95"/><circle cx="227.30" cy="380.60" r="0.95"/><circle cx="224.90" cy="381.70" r="0.95"/><circle cx="224.90" cy="384.00" r="0.95"/><circle cx="224.90" cy="386.60" r="0.95"/></g>
<rect x="244.60" y="366.00" width="19.00" height="9.70" fill="none" stroke="#1f3a66" stroke-width="0.9"/>
<line x1="244.60" y1="371.50" x2="263.60" y2="371.50" stroke="#1f3a66" stroke-width="0.9"/>
<line x1="254.10" y1="354.30" x2="254.10" y2="366.00" stroke="#1f3a66" stroke-width="0.9"/>
<line x1="249.60" y1="354.30" x2="258.60" y2="354.30" stroke="#1f3a66" stroke-width="0.9"/>
<line x1="254.10" y1="375.70" x2="254.10" y2="391.40" stroke="#1f3a66" stroke-width="0.9"/>
<line x1="249.60" y1="391.40" x2="258.60" y2="391.40" stroke="#1f3a66" stroke-width="0.9"/>
<g fill="#173262"><circle cx="254.10" cy="354.30" r="1.1"/><circle cx="249.60" cy="361.80" r="1.1"/><circle cx="258.60" cy="362.80" r="1.1"/><circle cx="245.30" cy="363.80" r="1.1"/><circle cx="249.60" cy="363.80" r="1.1"/><circle cx="262.60" cy="363.80" r="1.1"/><circle cx="245.30" cy="366.50" r="1.1"/><circle cx="249.60" cy="366.50" r="1.1"/><circle cx="254.10" cy="366.50" r="1.1"/><circle cx="258.60" cy="366.50" r="1.1"/><circle cx="262.60" cy="366.50" r="1.1"/><circle cx="245.30" cy="368.60" r="1.1"/><circle cx="249.60" cy="368.60" r="1.1"/><circle cx="254.10" cy="368.60" r="1.1"/><circle cx="258.60" cy="368.60" r="1.1"/><circle cx="262.60" cy="368.60" r="1.1"/><circle cx="245.30" cy="370.80" r="1.1"/><circle cx="249.60" cy="370.80" r="1.1"/><circle cx="254.10" cy="370.80" r="1.1"/><circle cx="258.60" cy="370.80" r="1.1"/><circle cx="245.30" cy="373.20" r="1.1"/><circle cx="249.60" cy="373.20" r="1.1"/><circle cx="254.10" cy="373.20" r="1.1"/><circle cx="258.60" cy="373.20" r="1.1"/><circle cx="262.60" cy="373.20" r="1.1"/><circle cx="249.60" cy="375.50" r="1.1"/><circle cx="254.10" cy="375.50" r="1.1"/><circle cx="258.60" cy="375.50" r="1.1"/><circle cx="249.60" cy="377.60" r="1.1"/><circle cx="254.10" cy="377.60" r="1.1"/><circle cx="258.60" cy="377.60" r="1.1"/><circle cx="249.60" cy="379.30" r="1.1"/><circle cx="258.60" cy="379.30" r="1.1"/><circle cx="254.10" cy="391.40" r="1.1"/></g>
<rect x="292.60" y="370.60" width="19.10" height="11.70" fill="none" stroke="#e03a38" stroke-width="0.9"/>
<line x1="292.60" y1="373.80" x2="311.70" y2="373.80" stroke="#e03a38" stroke-width="0.9"/>
<line x1="302.20" y1="369.40" x2="302.20" y2="370.60" stroke="#e03a38" stroke-width="0.9"/>
<line x1="298.00" y1="369.40" x2="306.40" y2="369.40" stroke="#e03a38" stroke-width="0.9"/>
<line x1="302.20" y1="382.30" x2="302.20" y2="387.00" stroke="#e03a38" stroke-width="0.9"/>
<line x1="298.00" y1="387.00" x2="306.40" y2="387.00" stroke="#e03a38" stroke-width="0.9"/>
<g fill="#d7101c"><circle cx="297.90" cy="369.60" r="0.95"/><circle cx="302.20" cy="369.60" r="0.95"/><circle cx="306.40" cy="369.60" r="0.95"/><circle cx="293.70" cy="371.70" r="0.95"/><circle cx="297.90" cy="371.70" r="0.95"/><circle cx="302.20" cy="371.70" r="0.95"/><circle cx="306.40" cy="371.70" r="0.95"/><circle cx="310.60" cy="371.70" r="0.95"/><circle cx="297.90" cy="375.40" r="0.95"/><circle cx="302.20" cy="375.40" r="0.95"/><circle cx="306.40" cy="375.40" r="0.95"/><circle cx="297.90" cy="378.00" r="0.95"/><circle cx="302.20" cy="378.00" r="0.95"/><circle cx="306.40" cy="378.00" r="0.95"/><circle cx="297.90" cy="380.20" r="0.95"/><circle cx="302.20" cy="380.20" r="0.95"/><circle cx="306.40" cy="380.20" r="0.95"/><circle cx="297.90" cy="382.30" r="0.95"/><circle cx="302.20" cy="382.30" r="0.95"/><circle cx="306.40" cy="382.30" r="0.95"/><circle cx="297.90" cy="384.40" r="0.95"/><circle cx="302.20" cy="384.40" r="0.95"/><circle cx="306.40" cy="384.40" r="0.95"/><circle cx="297.90" cy="386.50" r="0.95"/><circle cx="302.20" cy="386.50" r="0.95"/><circle cx="306.40" cy="386.50" r="0.95"/></g>
<rect x="322.00" y="365.70" width="18.30" height="10.80" fill="none" stroke="#1f3a66" stroke-width="0.9"/>
<line x1="322.00" y1="371.20" x2="340.30" y2="371.20" stroke="#1f3a66" stroke-width="0.9"/>
<line x1="331.10" y1="359.50" x2="331.10" y2="365.70" stroke="#1f3a66" stroke-width="0.9"/>
<line x1="326.85" y1="359.50" x2="335.35" y2="359.50" stroke="#1f3a66" stroke-width="0.9"/>
<line x1="331.10" y1="376.50" x2="331.10" y2="387.00" stroke="#1f3a66" stroke-width="0.9"/>
<line x1="326.85" y1="387.00" x2="335.35" y2="387.00" stroke="#1f3a66" stroke-width="0.9"/>
<g fill="#173262"><circle cx="331.10" cy="359.50" r="1.1"/><circle cx="326.50" cy="361.60" r="1.1"/><circle cx="331.10" cy="361.60" r="1.1"/><circle cx="335.50" cy="362.70" r="1.1"/><circle cx="322.30" cy="363.20" r="1.1"/><circle cx="339.70" cy="363.20" r="1.1"/><circle cx="326.50" cy="365.90" r="1.1"/><circle cx="331.10" cy="365.90" r="1.1"/><circle cx="335.50" cy="365.90" r="1.1"/><circle cx="322.30" cy="368.00" r="1.1"/><circle cx="326.50" cy="368.00" r="1.1"/><circle cx="331.10" cy="368.00" r="1.1"/><circle cx="335.50" cy="368.00" r="1.1"/><circle cx="339.70" cy="368.00" r="1.1"/><circle cx="326.50" cy="370.10" r="1.1"/><circle cx="331.10" cy="370.10" r="1.1"/><circle cx="335.50" cy="370.10" r="1.1"/><circle cx="322.30" cy="372.20" r="1.1"/><circle cx="326.50" cy="372.20" r="1.1"/><circle cx="331.10" cy="372.20" r="1.1"/><circle cx="335.50" cy="372.20" r="1.1"/><circle cx="339.70" cy="372.20" r="1.1"/><circle cx="326.50" cy="374.90" r="1.1"/><circle cx="331.10" cy="374.90" r="1.1"/><circle cx="335.50" cy="374.90" r="1.1"/><circle cx="339.70" cy="374.90" r="1.1"/><circle cx="326.50" cy="377.00" r="1.1"/><circle cx="331.10" cy="377.00" r="1.1"/><circle cx="335.50" cy="377.00" r="1.1"/><circle cx="331.10" cy="379.10" r="1.1"/><circle cx="335.50" cy="379.10" r="1.1"/><circle cx="326.50" cy="380.70" r="1.1"/><circle cx="331.10" cy="380.70" r="1.1"/><circle cx="335.50" cy="380.70" r="1.1"/><circle cx="331.10" cy="382.80" r="1.1"/><circle cx="331.10" cy="387.00" r="1.1"/></g>
<path d="M224.90,365.50 V348.30 H254.10 V351.30" fill="none" stroke="#e03a38" stroke-width="0.9"/>
<text x="238.90" y="346.50" font-size="6.3" text-anchor="middle" fill="#2a2a2a" textLength="18.60" lengthAdjust="spacingAndGlyphs">0.1018</text>
<path d="M302.20,367.50 V348.30 H331.10 V356.00" fill="none" stroke="#e03a38" stroke-width="0.9"/>
<text x="315.80" y="346.50" font-size="6.3" text-anchor="middle" fill="#2a2a2a" textLength="18.60" lengthAdjust="spacingAndGlyphs">0.0055</text>
<line x1="379.90" y1="343.10" x2="379.90" y2="394.70" stroke="#2b2b2b" stroke-width="1.2"/>
<line x1="376.90" y1="394.10" x2="379.90" y2="394.10" stroke="#2b2b2b" stroke-width="1.0"/>
<text x="374.30" y="396.44" font-size="6.5" text-anchor="end" fill="#2a2a2a" textLength="3.62" lengthAdjust="spacingAndGlyphs">0</text>
<line x1="376.90" y1="385.68" x2="379.90" y2="385.68" stroke="#2b2b2b" stroke-width="1.0"/>
<text x="374.30" y="388.02" font-size="6.5" text-anchor="end" fill="#2a2a2a" textLength="18.10" lengthAdjust="spacingAndGlyphs">10000</text>
<line x1="376.90" y1="377.27" x2="379.90" y2="377.27" stroke="#2b2b2b" stroke-width="1.0"/>
<text x="374.30" y="379.61" font-size="6.5" text-anchor="end" fill="#2a2a2a" textLength="18.10" lengthAdjust="spacingAndGlyphs">20000</text>
<line x1="376.90" y1="368.85" x2="379.90" y2="368.85" stroke="#2b2b2b" stroke-width="1.0"/>
<text x="374.30" y="371.19" font-size="6.5" text-anchor="end" fill="#2a2a2a" textLength="18.10" lengthAdjust="spacingAndGlyphs">30000</text>
<line x1="376.90" y1="360.43" x2="379.90" y2="360.43" stroke="#2b2b2b" stroke-width="1.0"/>
<text x="374.30" y="362.77" font-size="6.5" text-anchor="end" fill="#2a2a2a" textLength="18.10" lengthAdjust="spacingAndGlyphs">40000</text>
<line x1="376.90" y1="352.02" x2="379.90" y2="352.02" stroke="#2b2b2b" stroke-width="1.0"/>
<text x="374.30" y="354.36" font-size="6.5" text-anchor="end" fill="#2a2a2a" textLength="18.10" lengthAdjust="spacingAndGlyphs">50000</text>
<line x1="376.90" y1="343.60" x2="379.90" y2="343.60" stroke="#2b2b2b" stroke-width="1.0"/>
<text x="374.30" y="345.94" font-size="6.5" text-anchor="end" fill="#2a2a2a" textLength="18.10" lengthAdjust="spacingAndGlyphs">60000</text>
<line x1="379.30" y1="394.10" x2="515.40" y2="394.10" stroke="#2b2b2b" stroke-width="1.2"/>
<line x1="410.80" y1="394.10" x2="410.80" y2="396.70" stroke="#2b2b2b" stroke-width="0.9"/>
<text x="410.80" y="405.60" font-size="6.6" text-anchor="middle" fill="#2a2a2a" textLength="19.40" lengthAdjust="spacingAndGlyphs">Day 15</text>
<line x1="487.30" y1="394.10" x2="487.30" y2="396.70" stroke="#2b2b2b" stroke-width="0.9"/>
<text x="487.30" y="405.60" font-size="6.6" text-anchor="middle" fill="#2a2a2a" textLength="19.40" lengthAdjust="spacingAndGlyphs">Day 28</text>
<text x="447.75" y="333.40" font-size="9.0" text-anchor="middle" fill="#2a2a2a" textLength="112.30" lengthAdjust="spacingAndGlyphs">T-regs (CD3+CD4+Foxp3+)</text>
<text transform="translate(352.30,368.80) rotate(-90)" x="0" y="0" font-size="8.2" text-anchor="middle" fill="#444" textLength="32.50" lengthAdjust="spacingAndGlyphs" font-weight="bold">acH3 (MFI)</text>
<rect x="387.60" y="368.40" width="19.10" height="11.60" fill="none" stroke="#e03a38" stroke-width="0.9"/>
<line x1="387.60" y1="373.20" x2="406.70" y2="373.20" stroke="#e03a38" stroke-width="0.9"/>
<line x1="396.60" y1="362.40" x2="396.60" y2="368.40" stroke="#e03a38" stroke-width="0.9"/>
<line x1="391.30" y1="362.40" x2="401.90" y2="362.40" stroke="#e03a38" stroke-width="0.9"/>
<line x1="396.60" y1="380.00" x2="396.60" y2="383.20" stroke="#e03a38" stroke-width="0.9"/>
<line x1="391.30" y1="383.20" x2="401.90" y2="383.20" stroke="#e03a38" stroke-width="0.9"/>
<g fill="#d7101c"><circle cx="396.60" cy="362.40" r="0.95"/><circle cx="393.00" cy="364.70" r="0.95"/><circle cx="393.00" cy="366.30" r="0.95"/><circle cx="400.90" cy="365.20" r="0.95"/><circle cx="396.60" cy="366.10" r="0.95"/><circle cx="388.20" cy="368.40" r="0.95"/><circle cx="393.00" cy="368.40" r="0.95"/><circle cx="396.60" cy="368.40" r="0.95"/><circle cx="400.90" cy="368.40" r="0.95"/><circle cx="405.60" cy="368.40" r="0.95"/><circle cx="388.20" cy="370.70" r="0.95"/><circle cx="393.00" cy="370.70" r="0.95"/><circle cx="396.60" cy="370.70" r="0.95"/><circle cx="400.90" cy="370.70" r="0.95"/><circle cx="405.60" cy="370.70" r="0.95"/><circle cx="393.00" cy="372.60" r="0.95"/><circle cx="396.60" cy="372.60" r="0.95"/><circle cx="393.00" cy="374.70" r="0.95"/><circle cx="400.90" cy="374.70" r="0.95"/><circle cx="396.60" cy="376.70" r="0.95"/><circle cx="388.20" cy="380.00" r="0.95"/><circle cx="393.00" cy="380.00" r="0.95"/><circle cx="396.60" cy="380.00" r="0.95"/><circle cx="400.90" cy="380.00" r="0.95"/><circle cx="405.60" cy="380.00" r="0.95"/><circle cx="388.20" cy="383.20" r="0.95"/><circle cx="393.00" cy="383.20" r="0.95"/><circle cx="396.60" cy="383.20" r="0.95"/><circle cx="398.80" cy="383.20" r="0.95"/><circle cx="400.90" cy="383.20" r="0.95"/><circle cx="405.60" cy="383.20" r="0.95"/></g>
<rect x="416.50" y="366.10" width="18.20" height="11.80" fill="none" stroke="#1f3a66" stroke-width="0.9"/>
<line x1="416.50" y1="372.10" x2="434.70" y2="372.10" stroke="#1f3a66" stroke-width="0.9"/>
<line x1="425.70" y1="348.10" x2="425.70" y2="366.10" stroke="#1f3a66" stroke-width="0.9"/>
<line x1="421.45" y1="348.10" x2="429.95" y2="348.10" stroke="#1f3a66" stroke-width="0.9"/>
<line x1="425.70" y1="377.90" x2="425.70" y2="390.60" stroke="#1f3a66" stroke-width="0.9"/>
<line x1="421.45" y1="390.60" x2="429.95" y2="390.60" stroke="#1f3a66" stroke-width="0.9"/>
<g fill="#173262"><circle cx="425.70" cy="348.10" r="1.1"/><circle cx="421.50" cy="358.90" r="1.1"/><circle cx="430.00" cy="359.70" r="1.1"/><circle cx="425.70" cy="359.90" r="1.1"/><circle cx="425.70" cy="362.60" r="1.1"/><circle cx="430.00" cy="362.60" r="1.1"/><circle cx="421.50" cy="365.20" r="1.1"/><circle cx="425.70" cy="365.20" r="1.1"/><circle cx="430.00" cy="365.20" r="1.1"/><circle cx="421.50" cy="367.90" r="1.1"/><circle cx="425.70" cy="367.90" r="1.1"/><circle cx="430.00" cy="367.90" r="1.1"/><circle cx="417.30" cy="369.50" r="1.1"/><circle cx="421.50" cy="369.50" r="1.1"/><circle cx="425.70" cy="369.50" r="1.1"/><circle cx="430.00" cy="369.50" r="1.1"/><circle cx="434.20" cy="369.50" r="1.1"/><circle cx="417.30" cy="371.60" r="1.1"/><circle cx="421.50" cy="371.60" r="1.1"/><circle cx="425.70" cy="371.60" r="1.1"/><circle cx="430.00" cy="371.60" r="1.1"/><circle cx="434.20" cy="371.60" r="1.1"/><circle cx="421.50" cy="374.20" r="1.1"/><circle cx="425.70" cy="374.20" r="1.1"/><circle cx="430.00" cy="374.20" r="1.1"/><circle cx="421.50" cy="377.40" r="1.1"/><circle cx="425.70" cy="377.40" r="1.1"/><circle cx="430.00" cy="377.40" r="1.1"/><circle cx="425.70" cy="379.50" r="1.1"/><circle cx="423.10" cy="383.10" r="1.1"/><circle cx="427.90" cy="383.10" r="1.1"/><circle cx="425.70" cy="387.40" r="1.1"/><circle cx="425.70" cy="390.60" r="1.1"/></g>
<rect x="464.30" y="370.30" width="19.40" height="11.10" fill="none" stroke="#e03a38" stroke-width="0.9"/>
<line x1="464.30" y1="372.80" x2="483.70" y2="372.80" stroke="#e03a38" stroke-width="0.9"/>
<line x1="473.60" y1="365.00" x2="473.60" y2="370.30" stroke="#e03a38" stroke-width="0.9"/>
<line x1="469.35" y1="365.00" x2="477.85" y2="365.00" stroke="#e03a38" stroke-width="0.9"/>
<line x1="473.60" y1="381.40" x2="473.60" y2="388.10" stroke="#e03a38" stroke-width="0.9"/>
<line x1="469.35" y1="388.10" x2="477.85" y2="388.10" stroke="#e03a38" stroke-width="0.9"/>
<g fill="#d7101c"><circle cx="471.50" cy="365.00" r="0.95"/><circle cx="475.80" cy="365.00" r="0.95"/><circle cx="471.50" cy="368.20" r="0.95"/><circle cx="475.80" cy="368.20" r="0.95"/><circle cx="465.20" cy="371.20" r="0.95"/><circle cx="469.40" cy="371.20" r="0.95"/><circle cx="473.60" cy="371.20" r="0.95"/><circle cx="477.90" cy="371.20" r="0.95"/><circle cx="482.10" cy="371.20" r="0.95"/><circle cx="477.90" cy="373.80" r="0.95"/><circle cx="469.40" cy="377.30" r="0.95"/><circle cx="473.60" cy="378.40" r="0.95"/><circle cx="477.90" cy="377.70" r="0.95"/><circle cx="469.40" cy="381.50" r="0.95"/><circle cx="473.60" cy="381.50" r="0.95"/><circle cx="477.90" cy="381.50" r="0.95"/><circle cx="473.60" cy="384.10" r="0.95"/><circle cx="473.60" cy="388.10" r="0.95"/></g>
<rect x="493.20" y="368.50" width="18.80" height="9.90" fill="none" stroke="#1f3a66" stroke-width="0.9"/>
<line x1="493.20" y1="373.50" x2="512.00" y2="373.50" stroke="#1f3a66" stroke-width="0.9"/>
<line x1="502.70" y1="357.90" x2="502.70" y2="368.50" stroke="#1f3a66" stroke-width="0.9"/>
<line x1="498.20" y1="357.90" x2="507.20" y2="357.90" stroke="#1f3a66" stroke-width="0.9"/>
<line x1="502.70" y1="378.40" x2="502.70" y2="390.20" stroke="#1f3a66" stroke-width="0.9"/>
<line x1="498.20" y1="390.20" x2="507.20" y2="390.20" stroke="#1f3a66" stroke-width="0.9"/>
<g fill="#173262"><circle cx="501.10" cy="357.90" r="1.1"/><circle cx="504.80" cy="357.90" r="1.1"/><circle cx="503.80" cy="360.40" r="1.1"/><circle cx="507.50" cy="359.50" r="1.1"/><circle cx="496.90" cy="362.50" r="1.1"/><circle cx="507.50" cy="362.70" r="1.1"/><circle cx="501.20" cy="364.30" r="1.1"/><circle cx="502.70" cy="366.90" r="1.1"/><circle cx="494.30" cy="369.60" r="1.1"/><circle cx="498.50" cy="369.60" r="1.1"/><circle cx="502.70" cy="369.60" r="1.1"/><circle cx="507.00" cy="369.60" r="1.1"/><circle cx="511.20" cy="369.60" r="1.1"/><circle cx="494.30" cy="371.20" r="1.1"/><circle cx="498.50" cy="371.20" r="1.1"/><circle cx="502.70" cy="371.20" r="1.1"/><circle cx="507.00" cy="371.20" r="1.1"/><circle cx="511.20" cy="371.20" r="1.1"/><circle cx="498.50" cy="372.80" r="1.1"/><circle cx="502.70" cy="372.80" r="1.1"/><circle cx="507.00" cy="372.80" r="1.1"/><circle cx="511.20" cy="372.80" r="1.1"/><circle cx="494.30" cy="375.40" r="1.1"/><circle cx="498.50" cy="375.40" r="1.1"/><circle cx="502.70" cy="375.40" r="1.1"/><circle cx="507.00" cy="375.40" r="1.1"/><circle cx="511.20" cy="375.40" r="1.1"/><circle cx="494.30" cy="378.00" r="1.1"/><circle cx="498.50" cy="378.00" r="1.1"/><circle cx="502.70" cy="378.00" r="1.1"/><circle cx="507.00" cy="378.00" r="1.1"/><circle cx="511.20" cy="378.00" r="1.1"/><circle cx="501.10" cy="380.00" r="1.1"/><circle cx="504.30" cy="380.00" r="1.1"/><circle cx="501.10" cy="382.50" r="1.1"/><circle cx="504.30" cy="382.50" r="1.1"/><circle cx="501.10" cy="385.40" r="1.1"/><circle cx="500.60" cy="390.00" r="1.1"/><circle cx="504.30" cy="390.00" r="1.1"/></g>
<path d="M396.60,360.40 V343.20 H425.70 V345.30" fill="none" stroke="#e03a38" stroke-width="0.9"/>
<text x="410.80" y="340.40" font-size="6.3" text-anchor="middle" fill="#2a2a2a" textLength="18.60" lengthAdjust="spacingAndGlyphs">0.4359</text>
<path d="M473.60,362.00 V342.20 H502.70 V354.70" fill="none" stroke="#e03a38" stroke-width="0.9"/>
<text x="487.70" y="340.00" font-size="6.3" text-anchor="middle" fill="#2a2a2a" textLength="18.60" lengthAdjust="spacingAndGlyphs">0.7114</text>
<line x1="34.60" y1="427.90" x2="34.60" y2="500.60" stroke="#2b2b2b" stroke-width="1.2"/>
<line x1="31.60" y1="500.00" x2="34.60" y2="500.00" stroke="#2b2b2b" stroke-width="1.0"/>
<text x="29.00" y="502.09" font-size="5.8" text-anchor="end" fill="#2a2a2a">0.1</text>
<line x1="31.60" y1="428.40" x2="34.60" y2="428.40" stroke="#2b2b2b" stroke-width="1.0"/>
<text x="29.00" y="430.49" font-size="5.8" text-anchor="end" fill="#2a2a2a">1</text>
<line x1="32.60" y1="478.45" x2="34.60" y2="478.45" stroke="#2b2b2b" stroke-width="0.75"/>
<line x1="32.60" y1="465.84" x2="34.60" y2="465.84" stroke="#2b2b2b" stroke-width="0.75"/>
<line x1="32.60" y1="456.89" x2="34.60" y2="456.89" stroke="#2b2b2b" stroke-width="0.75"/>
<line x1="32.60" y1="449.95" x2="34.60" y2="449.95" stroke="#2b2b2b" stroke-width="0.75"/>
<line x1="32.60" y1="444.28" x2="34.60" y2="444.28" stroke="#2b2b2b" stroke-width="0.75"/>
<line x1="32.60" y1="439.49" x2="34.60" y2="439.49" stroke="#2b2b2b" stroke-width="0.75"/>
<line x1="32.60" y1="435.34" x2="34.60" y2="435.34" stroke="#2b2b2b" stroke-width="0.75"/>
<line x1="32.60" y1="431.68" x2="34.60" y2="431.68" stroke="#2b2b2b" stroke-width="0.75"/>
<line x1="34.00" y1="500.00" x2="168.40" y2="500.00" stroke="#2b2b2b" stroke-width="1.2"/>
<line x1="72.60" y1="500.00" x2="72.60" y2="502.60" stroke="#2b2b2b" stroke-width="0.9"/>
<text x="72.60" y="511.60" font-size="6.5" text-anchor="middle" fill="#2a2a2a" textLength="19.00" lengthAdjust="spacingAndGlyphs">Control</text>
<line x1="130.40" y1="500.00" x2="130.40" y2="502.60" stroke="#2b2b2b" stroke-width="0.9"/>
<text x="130.40" y="511.60" font-size="6.5" text-anchor="middle" fill="#2a2a2a" textLength="25.20" lengthAdjust="spacingAndGlyphs">Treatment</text>
<text x="102.90" y="422.40" font-size="9.0" text-anchor="middle" fill="#2a2a2a" textLength="50.40" lengthAdjust="spacingAndGlyphs">IFNg Day 90</text>
<text transform="translate(12.00,464.20) rotate(-90)" x="0" y="0" font-size="8.0" text-anchor="middle" fill="#444" textLength="39.00" lengthAdjust="spacingAndGlyphs" font-weight="bold">IFNg (pg/mL)</text>
<line x1="54.00" y1="487.30" x2="91.40" y2="487.30" stroke="#e03a38" stroke-width="1.0"/>
<g fill="#d7101c"><circle cx="54.20" cy="487.30" r="1.0"/><circle cx="57.05" cy="487.30" r="1.0"/><circle cx="59.89" cy="487.30" r="1.0"/><circle cx="62.74" cy="487.30" r="1.0"/><circle cx="65.58" cy="487.30" r="1.0"/><circle cx="68.43" cy="487.30" r="1.0"/><circle cx="71.28" cy="487.30" r="1.0"/><circle cx="74.12" cy="487.30" r="1.0"/><circle cx="76.97" cy="487.30" r="1.0"/><circle cx="79.82" cy="487.30" r="1.0"/><circle cx="82.66" cy="487.30" r="1.0"/><circle cx="85.51" cy="487.30" r="1.0"/><circle cx="88.35" cy="487.30" r="1.0"/><circle cx="91.20" cy="487.30" r="1.0"/></g>
<rect x="111.3" y="486.0" width="38.3" height="2.4" fill="#173262"/>
<path d="M72.60,483.60 V479.20 H130.40 V483.60" fill="none" stroke="#e03a38" stroke-width="0.9"/>
<text x="103.30" y="477.10" font-size="7.4" text-anchor="middle" fill="#2a2a2a" textLength="13.40" lengthAdjust="spacingAndGlyphs">N/A</text>
<line x1="202.80" y1="427.10" x2="202.80" y2="500.60" stroke="#2b2b2b" stroke-width="1.2"/>
<line x1="199.80" y1="500.00" x2="202.80" y2="500.00" stroke="#2b2b2b" stroke-width="1.0"/>
<text x="197.20" y="502.09" font-size="5.8" text-anchor="end" fill="#2a2a2a">0.1</text>
<line x1="199.80" y1="463.80" x2="202.80" y2="463.80" stroke="#2b2b2b" stroke-width="1.0"/>
<text x="197.20" y="465.89" font-size="5.8" text-anchor="end" fill="#2a2a2a">1</text>
<line x1="199.80" y1="427.60" x2="202.80" y2="427.60" stroke="#2b2b2b" stroke-width="1.0"/>
<text x="197.20" y="429.69" font-size="5.8" text-anchor="end" fill="#2a2a2a">10</text>
<line x1="200.80" y1="489.10" x2="202.80" y2="489.10" stroke="#2b2b2b" stroke-width="0.75"/>
<line x1="200.80" y1="482.73" x2="202.80" y2="482.73" stroke="#2b2b2b" stroke-width="0.75"/>
<line x1="200.80" y1="478.21" x2="202.80" y2="478.21" stroke="#2b2b2b" stroke-width="0.75"/>
<line x1="200.80" y1="474.70" x2="202.80" y2="474.70" stroke="#2b2b2b" stroke-width="0.75"/>
<line x1="200.80" y1="471.83" x2="202.80" y2="471.83" stroke="#2b2b2b" stroke-width="0.75"/>
<line x1="200.80" y1="469.41" x2="202.80" y2="469.41" stroke="#2b2b2b" stroke-width="0.75"/>
<line x1="200.80" y1="467.31" x2="202.80" y2="467.31" stroke="#2b2b2b" stroke-width="0.75"/>
<line x1="200.80" y1="465.46" x2="202.80" y2="465.46" stroke="#2b2b2b" stroke-width="0.75"/>
<line x1="200.80" y1="452.90" x2="202.80" y2="452.90" stroke="#2b2b2b" stroke-width="0.75"/>
<line x1="200.80" y1="446.53" x2="202.80" y2="446.53" stroke="#2b2b2b" stroke-width="0.75"/>
<line x1="200.80" y1="442.01" x2="202.80" y2="442.01" stroke="#2b2b2b" stroke-width="0.75"/>
<line x1="200.80" y1="438.50" x2="202.80" y2="438.50" stroke="#2b2b2b" stroke-width="0.75"/>
<line x1="200.80" y1="435.63" x2="202.80" y2="435.63" stroke="#2b2b2b" stroke-width="0.75"/>
<line x1="200.80" y1="433.21" x2="202.80" y2="433.21" stroke="#2b2b2b" stroke-width="0.75"/>
<line x1="200.80" y1="431.11" x2="202.80" y2="431.11" stroke="#2b2b2b" stroke-width="0.75"/>
<line x1="200.80" y1="429.26" x2="202.80" y2="429.26" stroke="#2b2b2b" stroke-width="0.75"/>
<line x1="202.20" y1="500.00" x2="336.90" y2="500.00" stroke="#2b2b2b" stroke-width="1.2"/>
<line x1="241.10" y1="500.00" x2="241.10" y2="502.60" stroke="#2b2b2b" stroke-width="0.9"/>
<text x="241.10" y="511.60" font-size="6.5" text-anchor="middle" fill="#2a2a2a" textLength="19.00" lengthAdjust="spacingAndGlyphs">Control</text>
<line x1="298.60" y1="500.00" x2="298.60" y2="502.60" stroke="#2b2b2b" stroke-width="0.9"/>
<text x="298.60" y="511.60" font-size="6.5" text-anchor="middle" fill="#2a2a2a" textLength="25.20" lengthAdjust="spacingAndGlyphs">Treatment</text>
<text x="271.45" y="422.40" font-size="9.0" text-anchor="middle" fill="#2a2a2a" textLength="51.10" lengthAdjust="spacingAndGlyphs">IL-10 Day 90</text>
<text transform="translate(182.20,464.20) rotate(-90)" x="0" y="0" font-size="8.0" text-anchor="middle" fill="#444" textLength="39.00" lengthAdjust="spacingAndGlyphs" font-weight="bold">IL-10 (pg/mL)</text>
<line x1="241.10" y1="441.70" x2="241.10" y2="493.30" stroke="#e03a38" stroke-width="0.9"/>
<line x1="235.40" y1="441.70" x2="247.50" y2="441.70" stroke="#e03a38" stroke-width="0.9"/>
<line x1="222.60" y1="493.30" x2="260.00" y2="493.30" stroke="#e03a38" stroke-width="1.0"/>
<g fill="#d7101c"><circle cx="222.80" cy="493.30" r="1.0"/><circle cx="225.65" cy="493.30" r="1.0"/><circle cx="228.49" cy="493.30" r="1.0"/><circle cx="231.34" cy="493.30" r="1.0"/><circle cx="234.18" cy="493.30" r="1.0"/><circle cx="237.03" cy="493.30" r="1.0"/><circle cx="239.88" cy="493.30" r="1.0"/><circle cx="242.72" cy="493.30" r="1.0"/><circle cx="245.57" cy="493.30" r="1.0"/><circle cx="248.42" cy="493.30" r="1.0"/><circle cx="251.26" cy="493.30" r="1.0"/><circle cx="254.11" cy="493.30" r="1.0"/><circle cx="256.95" cy="493.30" r="1.0"/><circle cx="259.80" cy="493.30" r="1.0"/><circle cx="241.10" cy="474.60" r="1.0"/><circle cx="241.10" cy="443.80" r="1.0"/></g>
<line x1="298.60" y1="472.20" x2="298.60" y2="493.20" stroke="#1f3a66" stroke-width="0.9"/>
<line x1="293.00" y1="472.20" x2="304.10" y2="472.20" stroke="#1f3a66" stroke-width="0.9"/>
<rect x="279.8" y="492.0" width="38.7" height="2.4" fill="#173262"/>
<g fill="#173262"><circle cx="298.60" cy="472.40" r="0.9"/></g>
<path d="M241.10,436.30 V433.90 H298.60 V467.30" fill="none" stroke="#e03a38" stroke-width="0.9"/>
<text x="268.20" y="431.20" font-size="7.6" text-anchor="middle" fill="#2a2a2a" textLength="24.30" lengthAdjust="spacingAndGlyphs">0.0669</text>
<line x1="375.80" y1="427.40" x2="375.80" y2="500.60" stroke="#2b2b2b" stroke-width="1.2"/>
<line x1="372.80" y1="500.00" x2="375.80" y2="500.00" stroke="#2b2b2b" stroke-width="1.0"/>
<text x="370.20" y="502.09" font-size="5.8" text-anchor="end" fill="#2a2a2a" textLength="10.50" lengthAdjust="spacingAndGlyphs">0.1</text>
<line x1="372.80" y1="485.58" x2="375.80" y2="485.58" stroke="#2b2b2b" stroke-width="1.0"/>
<text x="370.20" y="487.67" font-size="5.8" text-anchor="end" fill="#2a2a2a" textLength="3.50" lengthAdjust="spacingAndGlyphs">1</text>
<line x1="372.80" y1="471.16" x2="375.80" y2="471.16" stroke="#2b2b2b" stroke-width="1.0"/>
<text x="370.20" y="473.25" font-size="5.8" text-anchor="end" fill="#2a2a2a" textLength="7.00" lengthAdjust="spacingAndGlyphs">10</text>
<line x1="372.80" y1="456.74" x2="375.80" y2="456.74" stroke="#2b2b2b" stroke-width="1.0"/>
<text x="370.20" y="458.83" font-size="5.8" text-anchor="end" fill="#2a2a2a" textLength="10.50" lengthAdjust="spacingAndGlyphs">100</text>
<line x1="372.80" y1="442.32" x2="375.80" y2="442.32" stroke="#2b2b2b" stroke-width="1.0"/>
<text x="370.20" y="444.41" font-size="5.8" text-anchor="end" fill="#2a2a2a" textLength="14.00" lengthAdjust="spacingAndGlyphs">1000</text>
<line x1="372.80" y1="427.90" x2="375.80" y2="427.90" stroke="#2b2b2b" stroke-width="1.0"/>
<text x="370.20" y="429.99" font-size="5.8" text-anchor="end" fill="#2a2a2a" textLength="17.50" lengthAdjust="spacingAndGlyphs">10000</text>
<line x1="373.80" y1="495.66" x2="375.80" y2="495.66" stroke="#2b2b2b" stroke-width="0.75"/>
<line x1="373.80" y1="493.12" x2="375.80" y2="493.12" stroke="#2b2b2b" stroke-width="0.75"/>
<line x1="373.80" y1="491.32" x2="375.80" y2="491.32" stroke="#2b2b2b" stroke-width="0.75"/>
<line x1="373.80" y1="489.92" x2="375.80" y2="489.92" stroke="#2b2b2b" stroke-width="0.75"/>
<line x1="373.80" y1="488.78" x2="375.80" y2="488.78" stroke="#2b2b2b" stroke-width="0.75"/>
<line x1="373.80" y1="487.81" x2="375.80" y2="487.81" stroke="#2b2b2b" stroke-width="0.75"/>
<line x1="373.80" y1="486.98" x2="375.80" y2="486.98" stroke="#2b2b2b" stroke-width="0.75"/>
<line x1="373.80" y1="486.24" x2="375.80" y2="486.24" stroke="#2b2b2b" stroke-width="0.75"/>
<line x1="373.80" y1="481.24" x2="375.80" y2="481.24" stroke="#2b2b2b" stroke-width="0.75"/>
<line x1="373.80" y1="478.70" x2="375.80" y2="478.70" stroke="#2b2b2b" stroke-width="0.75"/>
<line x1="373.80" y1="476.90" x2="375.80" y2="476.90" stroke="#2b2b2b" stroke-width="0.75"/>
<line x1="373.80" y1="475.50" x2="375.80" y2="475.50" stroke="#2b2b2b" stroke-width="0.75"/>
<line x1="373.80" y1="474.36" x2="375.80" y2="474.36" stroke="#2b2b2b" stroke-width="0.75"/>
<line x1="373.80" y1="473.39" x2="375.80" y2="473.39" stroke="#2b2b2b" stroke-width="0.75"/>
<line x1="373.80" y1="472.56" x2="375.80" y2="472.56" stroke="#2b2b2b" stroke-width="0.75"/>
<line x1="373.80" y1="471.82" x2="375.80" y2="471.82" stroke="#2b2b2b" stroke-width="0.75"/>
<line x1="373.80" y1="466.82" x2="375.80" y2="466.82" stroke="#2b2b2b" stroke-width="0.75"/>
<line x1="373.80" y1="464.28" x2="375.80" y2="464.28" stroke="#2b2b2b" stroke-width="0.75"/>
<line x1="373.80" y1="462.48" x2="375.80" y2="462.48" stroke="#2b2b2b" stroke-width="0.75"/>
<line x1="373.80" y1="461.08" x2="375.80" y2="461.08" stroke="#2b2b2b" stroke-width="0.75"/>
<line x1="373.80" y1="459.94" x2="375.80" y2="459.94" stroke="#2b2b2b" stroke-width="0.75"/>
<line x1="373.80" y1="458.97" x2="375.80" y2="458.97" stroke="#2b2b2b" stroke-width="0.75"/>
<line x1="373.80" y1="458.14" x2="375.80" y2="458.14" stroke="#2b2b2b" stroke-width="0.75"/>
<line x1="373.80" y1="457.40" x2="375.80" y2="457.40" stroke="#2b2b2b" stroke-width="0.75"/>
<line x1="373.80" y1="452.40" x2="375.80" y2="452.40" stroke="#2b2b2b" stroke-width="0.75"/>
<line x1="373.80" y1="449.86" x2="375.80" y2="449.86" stroke="#2b2b2b" stroke-width="0.75"/>
<line x1="373.80" y1="448.06" x2="375.80" y2="448.06" stroke="#2b2b2b" stroke-width="0.75"/>
<line x1="373.80" y1="446.66" x2="375.80" y2="446.66" stroke="#2b2b2b" stroke-width="0.75"/>
<line x1="373.80" y1="445.52" x2="375.80" y2="445.52" stroke="#2b2b2b" stroke-width="0.75"/>
<line x1="373.80" y1="444.55" x2="375.80" y2="444.55" stroke="#2b2b2b" stroke-width="0.75"/>
<line x1="373.80" y1="443.72" x2="375.80" y2="443.72" stroke="#2b2b2b" stroke-width="0.75"/>
<line x1="373.80" y1="442.98" x2="375.80" y2="442.98" stroke="#2b2b2b" stroke-width="0.75"/>
<line x1="373.80" y1="437.98" x2="375.80" y2="437.98" stroke="#2b2b2b" stroke-width="0.75"/>
<line x1="373.80" y1="435.44" x2="375.80" y2="435.44" stroke="#2b2b2b" stroke-width="0.75"/>
<line x1="373.80" y1="433.64" x2="375.80" y2="433.64" stroke="#2b2b2b" stroke-width="0.75"/>
<line x1="373.80" y1="432.24" x2="375.80" y2="432.24" stroke="#2b2b2b" stroke-width="0.75"/>
<line x1="373.80" y1="431.10" x2="375.80" y2="431.10" stroke="#2b2b2b" stroke-width="0.75"/>
<line x1="373.80" y1="430.13" x2="375.80" y2="430.13" stroke="#2b2b2b" stroke-width="0.75"/>
<line x1="373.80" y1="429.30" x2="375.80" y2="429.30" stroke="#2b2b2b" stroke-width="0.75"/>
<line x1="373.80" y1="428.56" x2="375.80" y2="428.56" stroke="#2b2b2b" stroke-width="0.75"/>
<line x1="375.20" y1="500.00" x2="514.80" y2="500.00" stroke="#2b2b2b" stroke-width="1.2"/>
<line x1="415.00" y1="500.00" x2="415.00" y2="502.60" stroke="#2b2b2b" stroke-width="0.9"/>
<text x="415.00" y="511.60" font-size="6.5" text-anchor="middle" fill="#2a2a2a" textLength="19.00" lengthAdjust="spacingAndGlyphs">Control</text>
<line x1="472.30" y1="500.00" x2="472.30" y2="502.60" stroke="#2b2b2b" stroke-width="0.9"/>
<text x="472.30" y="511.60" font-size="6.5" text-anchor="middle" fill="#2a2a2a" textLength="25.20" lengthAdjust="spacingAndGlyphs">Treatment</text>
<text x="443.65" y="422.40" font-size="9.0" text-anchor="middle" fill="#2a2a2a" textLength="46.70" lengthAdjust="spacingAndGlyphs">IL-6 Day 90</text>
<text transform="translate(352.00,464.20) rotate(-90)" x="0" y="0" font-size="8.0" text-anchor="middle" fill="#444" textLength="36.00" lengthAdjust="spacingAndGlyphs" font-weight="bold">IL-6 (pg/mL)</text>
<rect x="396.00" y="465.80" width="37.60" height="13.40" fill="none" stroke="#e03a38" stroke-width="0.9"/>
<line x1="396.00" y1="474.40" x2="433.60" y2="474.40" stroke="#e03a38" stroke-width="0.9"/>
<line x1="414.80" y1="440.90" x2="414.80" y2="465.80" stroke="#e03a38" stroke-width="0.9"/>
<line x1="409.30" y1="440.90" x2="420.30" y2="440.90" stroke="#e03a38" stroke-width="0.9"/>
<line x1="414.80" y1="479.20" x2="414.80" y2="497.50" stroke="#e03a38" stroke-width="0.9"/>
<line x1="409.30" y1="497.50" x2="420.30" y2="497.50" stroke="#e03a38" stroke-width="0.9"/>
<g fill="#d7101c"><circle cx="414.80" cy="440.80" r="0.95"/><circle cx="414.80" cy="448.80" r="0.95"/><circle cx="414.80" cy="454.80" r="0.95"/><circle cx="412.90" cy="465.40" r="0.95"/><circle cx="417.10" cy="465.40" r="0.95"/><circle cx="410.80" cy="470.60" r="0.95"/><circle cx="414.80" cy="472.50" r="0.95"/><circle cx="410.80" cy="473.50" r="0.95"/><circle cx="414.80" cy="474.40" r="0.95"/><circle cx="418.70" cy="476.00" r="0.95"/><circle cx="417.00" cy="474.00" r="0.95"/><circle cx="414.80" cy="481.20" r="0.95"/><circle cx="411.90" cy="497.50" r="0.95"/><circle cx="414.80" cy="497.50" r="0.95"/><circle cx="417.70" cy="497.50" r="0.95"/></g>
<rect x="453.30" y="468.30" width="37.90" height="20.90" fill="none" stroke="#1f3a66" stroke-width="0.9"/>
<line x1="453.30" y1="471.90" x2="491.20" y2="471.90" stroke="#1f3a66" stroke-width="0.9"/>
<line x1="472.10" y1="448.80" x2="472.10" y2="468.30" stroke="#1f3a66" stroke-width="0.9"/>
<line x1="466.60" y1="448.80" x2="477.60" y2="448.80" stroke="#1f3a66" stroke-width="0.9"/>
<line x1="472.10" y1="489.20" x2="472.10" y2="497.50" stroke="#1f3a66" stroke-width="0.9"/>
<line x1="466.60" y1="497.50" x2="477.60" y2="497.50" stroke="#1f3a66" stroke-width="0.9"/>
<g fill="#173262"><circle cx="471.90" cy="448.80" r="1.1"/><circle cx="471.90" cy="461.90" r="1.1"/><circle cx="468.10" cy="463.80" r="1.1"/><circle cx="471.90" cy="463.80" r="1.1"/><circle cx="476.20" cy="463.80" r="1.1"/><circle cx="468.10" cy="469.20" r="1.1"/><circle cx="471.90" cy="469.20" r="1.1"/><circle cx="476.20" cy="469.20" r="1.1"/><circle cx="464.20" cy="472.50" r="1.1"/><circle cx="468.10" cy="472.50" r="1.1"/><circle cx="471.90" cy="472.50" r="1.1"/><circle cx="476.00" cy="472.50" r="1.1"/><circle cx="480.00" cy="472.50" r="1.1"/><circle cx="479.50" cy="470.50" r="1.1"/><circle cx="471.90" cy="474.80" r="1.1"/><circle cx="476.20" cy="474.80" r="1.1"/><circle cx="471.90" cy="476.60" r="1.1"/><circle cx="476.20" cy="487.90" r="1.1"/><circle cx="471.90" cy="489.80" r="1.1"/><circle cx="464.20" cy="497.50" r="1.1"/><circle cx="468.10" cy="497.50" r="1.1"/><circle cx="471.90" cy="497.50" r="1.1"/><circle cx="476.20" cy="497.50" r="1.1"/><circle cx="480.00" cy="497.50" r="1.1"/></g>
<path d="M415.00,440.00 V431.80 H472.50 V438.70" fill="none" stroke="#e03a38" stroke-width="0.9"/>
<text x="445.40" y="430.00" font-size="7.6" text-anchor="middle" fill="#2a2a2a" textLength="23.80" lengthAdjust="spacingAndGlyphs">0.1663</text>
<line x1="41.20" y1="539.10" x2="41.20" y2="644.90" stroke="#2b2b2b" stroke-width="1.2"/>
<line x1="38.20" y1="644.30" x2="41.20" y2="644.30" stroke="#2b2b2b" stroke-width="1.0"/>
<text x="35.60" y="646.32" font-size="5.6" text-anchor="end" fill="#2a2a2a" textLength="14.00" lengthAdjust="spacingAndGlyphs">1000</text>
<line x1="38.20" y1="591.95" x2="41.20" y2="591.95" stroke="#2b2b2b" stroke-width="1.0"/>
<text x="35.60" y="593.97" font-size="5.6" text-anchor="end" fill="#2a2a2a" textLength="17.50" lengthAdjust="spacingAndGlyphs">10000</text>
<line x1="38.20" y1="539.60" x2="41.20" y2="539.60" stroke="#2b2b2b" stroke-width="1.0"/>
<text x="35.60" y="541.62" font-size="5.6" text-anchor="end" fill="#2a2a2a" textLength="21.00" lengthAdjust="spacingAndGlyphs">100000</text>
<line x1="39.20" y1="628.54" x2="41.20" y2="628.54" stroke="#2b2b2b" stroke-width="0.75"/>
<line x1="39.20" y1="619.32" x2="41.20" y2="619.32" stroke="#2b2b2b" stroke-width="0.75"/>
<line x1="39.20" y1="612.78" x2="41.20" y2="612.78" stroke="#2b2b2b" stroke-width="0.75"/>
<line x1="39.20" y1="607.71" x2="41.20" y2="607.71" stroke="#2b2b2b" stroke-width="0.75"/>
<line x1="39.20" y1="603.56" x2="41.20" y2="603.56" stroke="#2b2b2b" stroke-width="0.75"/>
<line x1="39.20" y1="600.06" x2="41.20" y2="600.06" stroke="#2b2b2b" stroke-width="0.75"/>
<line x1="39.20" y1="597.02" x2="41.20" y2="597.02" stroke="#2b2b2b" stroke-width="0.75"/>
<line x1="39.20" y1="594.35" x2="41.20" y2="594.35" stroke="#2b2b2b" stroke-width="0.75"/>
<line x1="39.20" y1="576.19" x2="41.20" y2="576.19" stroke="#2b2b2b" stroke-width="0.75"/>
<line x1="39.20" y1="566.97" x2="41.20" y2="566.97" stroke="#2b2b2b" stroke-width="0.75"/>
<line x1="39.20" y1="560.43" x2="41.20" y2="560.43" stroke="#2b2b2b" stroke-width="0.75"/>
<line x1="39.20" y1="555.36" x2="41.20" y2="555.36" stroke="#2b2b2b" stroke-width="0.75"/>
<line x1="39.20" y1="551.21" x2="41.20" y2="551.21" stroke="#2b2b2b" stroke-width="0.75"/>
<line x1="39.20" y1="547.71" x2="41.20" y2="547.71" stroke="#2b2b2b" stroke-width="0.75"/>
<line x1="39.20" y1="544.67" x2="41.20" y2="544.67" stroke="#2b2b2b" stroke-width="0.75"/>
<line x1="39.20" y1="542.00" x2="41.20" y2="542.00" stroke="#2b2b2b" stroke-width="0.75"/>
<line x1="40.60" y1="644.30" x2="178.20" y2="644.30" stroke="#2b2b2b" stroke-width="1.2"/>
<line x1="83.00" y1="644.30" x2="83.00" y2="646.90" stroke="#2b2b2b" stroke-width="0.9"/>
<text x="83.00" y="655.60" font-size="6.6" text-anchor="middle" fill="#2a2a2a" textLength="19.70" lengthAdjust="spacingAndGlyphs">Control</text>
<line x1="147.00" y1="644.30" x2="147.00" y2="646.90" stroke="#2b2b2b" stroke-width="0.9"/>
<text x="147.00" y="655.60" font-size="6.6" text-anchor="middle" fill="#2a2a2a" textLength="25.80" lengthAdjust="spacingAndGlyphs">Treatment</text>
<text x="113.70" y="524.90" font-size="9.0" text-anchor="middle" fill="#2a2a2a" textLength="20.60" lengthAdjust="spacingAndGlyphs">Elafin</text>
<text x="114.70" y="666.20" font-size="8.6" text-anchor="middle" fill="#333" textLength="16.20" lengthAdjust="spacingAndGlyphs" font-weight="bold">Group</text>
<text transform="translate(14.60,591.40) rotate(-90)" x="0" y="0" font-size="7.8" text-anchor="middle" fill="#444" textLength="18.80" lengthAdjust="spacingAndGlyphs" font-weight="bold">pg/mL</text>
<rect x="61.50" y="564.30" width="41.90" height="12.70" fill="none" stroke="#e03a38" stroke-width="0.9"/>
<line x1="61.50" y1="572.20" x2="103.40" y2="572.20" stroke="#e03a38" stroke-width="0.9"/>
<line x1="82.50" y1="545.80" x2="82.50" y2="564.30" stroke="#e03a38" stroke-width="0.9"/>
<line x1="76.00" y1="545.80" x2="89.00" y2="545.80" stroke="#e03a38" stroke-width="0.9"/>
<line x1="82.50" y1="577.00" x2="82.50" y2="591.40" stroke="#e03a38" stroke-width="0.9"/>
<line x1="76.00" y1="591.40" x2="89.00" y2="591.40" stroke="#e03a38" stroke-width="0.9"/>
<g fill="#d7101c"><circle cx="82.50" cy="545.80" r="0.95"/><circle cx="82.50" cy="548.70" r="0.95"/><circle cx="82.50" cy="555.90" r="0.95"/><circle cx="84.90" cy="560.70" r="0.95"/><circle cx="80.50" cy="562.60" r="0.95"/><circle cx="76.00" cy="566.70" r="0.95"/><circle cx="80.50" cy="566.70" r="0.95"/><circle cx="83.70" cy="567.90" r="0.95"/><circle cx="76.90" cy="570.80" r="0.95"/><circle cx="80.50" cy="570.80" r="0.95"/><circle cx="84.90" cy="570.80" r="0.95"/><circle cx="76.90" cy="573.90" r="0.95"/><circle cx="80.50" cy="573.90" r="0.95"/><circle cx="84.90" cy="573.90" r="0.95"/><circle cx="88.90" cy="573.40" r="0.95"/><circle cx="80.50" cy="578.00" r="0.95"/><circle cx="84.90" cy="578.00" r="0.95"/><circle cx="80.50" cy="582.30" r="0.95"/><circle cx="84.90" cy="581.10" r="0.95"/><circle cx="80.50" cy="591.40" r="0.95"/><circle cx="84.90" cy="591.40" r="0.95"/></g>
<rect x="125.70" y="558.80" width="42.10" height="15.80" fill="none" stroke="#1f3a66" stroke-width="0.9"/>
<line x1="125.70" y1="567.40" x2="167.80" y2="567.40" stroke="#1f3a66" stroke-width="0.9"/>
<line x1="146.60" y1="547.00" x2="146.60" y2="558.80" stroke="#1f3a66" stroke-width="0.9"/>
<line x1="140.60" y1="547.00" x2="152.60" y2="547.00" stroke="#1f3a66" stroke-width="0.9"/>
<line x1="146.60" y1="574.60" x2="146.60" y2="606.20" stroke="#1f3a66" stroke-width="0.9"/>
<line x1="140.60" y1="606.20" x2="152.60" y2="606.20" stroke="#1f3a66" stroke-width="0.9"/>
<g fill="#173262"><circle cx="146.50" cy="547.30" r="1.1"/><circle cx="142.90" cy="552.00" r="1.1"/><circle cx="142.90" cy="555.10" r="1.1"/><circle cx="150.70" cy="550.40" r="1.1"/><circle cx="150.70" cy="553.30" r="1.1"/><circle cx="146.50" cy="554.60" r="1.1"/><circle cx="138.50" cy="557.50" r="1.1"/><circle cx="155.10" cy="556.60" r="1.1"/><circle cx="142.90" cy="559.00" r="1.1"/><circle cx="146.50" cy="559.50" r="1.1"/><circle cx="150.70" cy="559.00" r="1.1"/><circle cx="150.70" cy="560.50" r="1.1"/><circle cx="138.50" cy="562.90" r="1.1"/><circle cx="142.90" cy="561.80" r="1.1"/><circle cx="146.50" cy="562.30" r="1.1"/><circle cx="150.70" cy="562.00" r="1.1"/><circle cx="150.70" cy="563.70" r="1.1"/><circle cx="155.10" cy="562.10" r="1.1"/><circle cx="146.50" cy="566.00" r="1.1"/><circle cx="138.50" cy="567.90" r="1.1"/><circle cx="146.50" cy="567.90" r="1.1"/><circle cx="150.70" cy="567.20" r="1.1"/><circle cx="150.70" cy="568.60" r="1.1"/><circle cx="155.10" cy="567.50" r="1.1"/><circle cx="138.50" cy="571.20" r="1.1"/><circle cx="146.50" cy="570.10" r="1.1"/><circle cx="150.70" cy="570.70" r="1.1"/><circle cx="155.10" cy="571.00" r="1.1"/><circle cx="142.90" cy="572.70" r="1.1"/><circle cx="142.90" cy="574.30" r="1.1"/><circle cx="142.90" cy="575.90" r="1.1"/><circle cx="142.90" cy="579.50" r="1.1"/><circle cx="146.50" cy="572.70" r="1.1"/><circle cx="146.50" cy="575.90" r="1.1"/><circle cx="146.50" cy="578.70" r="1.1"/><circle cx="146.50" cy="581.60" r="1.1"/><circle cx="150.70" cy="572.70" r="1.1"/><circle cx="150.70" cy="577.60" r="1.1"/><circle cx="150.70" cy="587.00" r="1.1"/><circle cx="146.50" cy="588.60" r="1.1"/><circle cx="146.50" cy="596.10" r="1.1"/><circle cx="146.50" cy="606.20" r="1.1"/></g>
<path d="M82.50,544.30 V539.50 H146.90 V543.40" fill="none" stroke="#e03a38" stroke-width="0.9"/>
<text x="113.40" y="537.20" font-size="7.6" text-anchor="middle" fill="#2a2a2a" textLength="24.70" lengthAdjust="spacingAndGlyphs">0.5459</text>
<line x1="204.10" y1="533.70" x2="204.10" y2="644.20" stroke="#2b2b2b" stroke-width="1.2"/>
<line x1="201.10" y1="643.60" x2="204.10" y2="643.60" stroke="#2b2b2b" stroke-width="1.0"/>
<text x="198.50" y="645.62" font-size="5.6" text-anchor="end" fill="#2a2a2a" textLength="7.00" lengthAdjust="spacingAndGlyphs">10</text>
<line x1="201.10" y1="616.25" x2="204.10" y2="616.25" stroke="#2b2b2b" stroke-width="1.0"/>
<text x="198.50" y="618.27" font-size="5.6" text-anchor="end" fill="#2a2a2a" textLength="10.50" lengthAdjust="spacingAndGlyphs">100</text>
<line x1="201.10" y1="588.90" x2="204.10" y2="588.90" stroke="#2b2b2b" stroke-width="1.0"/>
<text x="198.50" y="590.92" font-size="5.6" text-anchor="end" fill="#2a2a2a" textLength="14.00" lengthAdjust="spacingAndGlyphs">1000</text>
<line x1="201.10" y1="561.55" x2="204.10" y2="561.55" stroke="#2b2b2b" stroke-width="1.0"/>
<text x="198.50" y="563.57" font-size="5.6" text-anchor="end" fill="#2a2a2a" textLength="17.50" lengthAdjust="spacingAndGlyphs">10000</text>
<line x1="201.10" y1="534.20" x2="204.10" y2="534.20" stroke="#2b2b2b" stroke-width="1.0"/>
<text x="198.50" y="536.22" font-size="5.6" text-anchor="end" fill="#2a2a2a" textLength="21.00" lengthAdjust="spacingAndGlyphs">100000</text>
<line x1="202.10" y1="635.37" x2="204.10" y2="635.37" stroke="#2b2b2b" stroke-width="0.75"/>
<line x1="202.10" y1="630.55" x2="204.10" y2="630.55" stroke="#2b2b2b" stroke-width="0.75"/>
<line x1="202.10" y1="627.13" x2="204.10" y2="627.13" stroke="#2b2b2b" stroke-width="0.75"/>
<line x1="202.10" y1="624.48" x2="204.10" y2="624.48" stroke="#2b2b2b" stroke-width="0.75"/>
<line x1="202.10" y1="622.32" x2="204.10" y2="622.32" stroke="#2b2b2b" stroke-width="0.75"/>
<line x1="202.10" y1="620.49" x2="204.10" y2="620.49" stroke="#2b2b2b" stroke-width="0.75"/>
<line x1="202.10" y1="618.90" x2="204.10" y2="618.90" stroke="#2b2b2b" stroke-width="0.75"/>
<line x1="202.10" y1="617.50" x2="204.10" y2="617.50" stroke="#2b2b2b" stroke-width="0.75"/>
<line x1="202.10" y1="608.02" x2="204.10" y2="608.02" stroke="#2b2b2b" stroke-width="0.75"/>
<line x1="202.10" y1="603.20" x2="204.10" y2="603.20" stroke="#2b2b2b" stroke-width="0.75"/>
<line x1="202.10" y1="599.78" x2="204.10" y2="599.78" stroke="#2b2b2b" stroke-width="0.75"/>
<line x1="202.10" y1="597.13" x2="204.10" y2="597.13" stroke="#2b2b2b" stroke-width="0.75"/>
<line x1="202.10" y1="594.97" x2="204.10" y2="594.97" stroke="#2b2b2b" stroke-width="0.75"/>
<line x1="202.10" y1="593.14" x2="204.10" y2="593.14" stroke="#2b2b2b" stroke-width="0.75"/>
<line x1="202.10" y1="591.55" x2="204.10" y2="591.55" stroke="#2b2b2b" stroke-width="0.75"/>
<line x1="202.10" y1="590.15" x2="204.10" y2="590.15" stroke="#2b2b2b" stroke-width="0.75"/>
<line x1="202.10" y1="580.67" x2="204.10" y2="580.67" stroke="#2b2b2b" stroke-width="0.75"/>
<line x1="202.10" y1="575.85" x2="204.10" y2="575.85" stroke="#2b2b2b" stroke-width="0.75"/>
<line x1="202.10" y1="572.43" x2="204.10" y2="572.43" stroke="#2b2b2b" stroke-width="0.75"/>
<line x1="202.10" y1="569.78" x2="204.10" y2="569.78" stroke="#2b2b2b" stroke-width="0.75"/>
<line x1="202.10" y1="567.62" x2="204.10" y2="567.62" stroke="#2b2b2b" stroke-width="0.75"/>
<line x1="202.10" y1="565.79" x2="204.10" y2="565.79" stroke="#2b2b2b" stroke-width="0.75"/>
<line x1="202.10" y1="564.20" x2="204.10" y2="564.20" stroke="#2b2b2b" stroke-width="0.75"/>
<line x1="202.10" y1="562.80" x2="204.10" y2="562.80" stroke="#2b2b2b" stroke-width="0.75"/>
<line x1="202.10" y1="553.32" x2="204.10" y2="553.32" stroke="#2b2b2b" stroke-width="0.75"/>
<line x1="202.10" y1="548.50" x2="204.10" y2="548.50" stroke="#2b2b2b" stroke-width="0.75"/>
<line x1="202.10" y1="545.08" x2="204.10" y2="545.08" stroke="#2b2b2b" stroke-width="0.75"/>
<line x1="202.10" y1="542.43" x2="204.10" y2="542.43" stroke="#2b2b2b" stroke-width="0.75"/>
<line x1="202.10" y1="540.27" x2="204.10" y2="540.27" stroke="#2b2b2b" stroke-width="0.75"/>
<line x1="202.10" y1="538.44" x2="204.10" y2="538.44" stroke="#2b2b2b" stroke-width="0.75"/>
<line x1="202.10" y1="536.85" x2="204.10" y2="536.85" stroke="#2b2b2b" stroke-width="0.75"/>
<line x1="202.10" y1="535.45" x2="204.10" y2="535.45" stroke="#2b2b2b" stroke-width="0.75"/>
<line x1="203.50" y1="644.60" x2="339.70" y2="644.60" stroke="#2b2b2b" stroke-width="1.2"/>
<line x1="246.40" y1="644.60" x2="246.40" y2="647.20" stroke="#2b2b2b" stroke-width="0.9"/>
<text x="246.40" y="655.60" font-size="6.6" text-anchor="middle" fill="#2a2a2a" textLength="19.70" lengthAdjust="spacingAndGlyphs">Control</text>
<line x1="313.80" y1="644.60" x2="313.80" y2="647.20" stroke="#2b2b2b" stroke-width="0.9"/>
<text x="313.80" y="655.60" font-size="6.6" text-anchor="middle" fill="#2a2a2a" textLength="25.80" lengthAdjust="spacingAndGlyphs">Treatment</text>
<text x="286.25" y="524.90" font-size="9.0" text-anchor="middle" fill="#2a2a2a" textLength="30.10" lengthAdjust="spacingAndGlyphs">REG3a</text>
<text x="275.90" y="666.20" font-size="8.6" text-anchor="middle" fill="#333" textLength="15.60" lengthAdjust="spacingAndGlyphs" font-weight="bold">Group</text>
<text transform="translate(182.80,589.20) rotate(-90)" x="0" y="0" font-size="7.8" text-anchor="middle" fill="#444" textLength="18.80" lengthAdjust="spacingAndGlyphs" font-weight="bold">pg/mL</text>
<rect x="224.30" y="561.40" width="44.10" height="26.30" fill="none" stroke="#e03a38" stroke-width="0.9"/>
<line x1="224.30" y1="576.80" x2="268.40" y2="576.80" stroke="#e03a38" stroke-width="0.9"/>
<line x1="246.60" y1="555.30" x2="246.60" y2="561.40" stroke="#e03a38" stroke-width="0.9"/>
<line x1="240.45" y1="555.30" x2="252.75" y2="555.30" stroke="#e03a38" stroke-width="0.9"/>
<line x1="246.60" y1="587.70" x2="246.60" y2="615.30" stroke="#e03a38" stroke-width="0.9"/>
<line x1="240.45" y1="615.30" x2="252.75" y2="615.30" stroke="#e03a38" stroke-width="0.9"/>
<g fill="#d7101c"><circle cx="246.70" cy="555.30" r="0.95"/><circle cx="242.30" cy="558.70" r="0.95"/><circle cx="246.70" cy="558.70" r="0.95"/><circle cx="242.30" cy="561.90" r="0.95"/><circle cx="246.70" cy="561.40" r="0.95"/><circle cx="250.60" cy="560.30" r="0.95"/><circle cx="246.70" cy="570.60" r="0.95"/><circle cx="246.70" cy="573.90" r="0.95"/><circle cx="242.30" cy="576.80" r="0.95"/><circle cx="246.70" cy="577.70" r="0.95"/><circle cx="244.40" cy="579.80" r="0.95"/><circle cx="248.70" cy="580.00" r="0.95"/><circle cx="246.70" cy="586.20" r="0.95"/><circle cx="246.70" cy="590.50" r="0.95"/><circle cx="244.40" cy="602.70" r="0.95"/><circle cx="248.70" cy="604.40" r="0.95"/><circle cx="246.70" cy="615.30" r="0.95"/></g>
<rect x="291.40" y="562.10" width="44.40" height="22.30" fill="none" stroke="#1f3a66" stroke-width="0.9"/>
<line x1="291.40" y1="570.60" x2="335.80" y2="570.60" stroke="#1f3a66" stroke-width="0.9"/>
<line x1="313.50" y1="554.90" x2="313.50" y2="562.10" stroke="#1f3a66" stroke-width="0.9"/>
<line x1="308.00" y1="554.90" x2="319.00" y2="554.90" stroke="#1f3a66" stroke-width="0.9"/>
<line x1="313.50" y1="584.40" x2="313.50" y2="622.70" stroke="#1f3a66" stroke-width="0.9"/>
<line x1="308.00" y1="622.70" x2="319.00" y2="622.70" stroke="#1f3a66" stroke-width="0.9"/>
<g fill="#173262"><circle cx="309.20" cy="556.60" r="1.1"/><circle cx="309.20" cy="558.30" r="1.1"/><circle cx="309.20" cy="560.00" r="1.1"/><circle cx="309.20" cy="562.90" r="1.1"/><circle cx="309.20" cy="568.60" r="1.1"/><circle cx="309.20" cy="572.30" r="1.1"/><circle cx="309.20" cy="576.10" r="1.1"/><circle cx="309.20" cy="578.90" r="1.1"/><circle cx="309.20" cy="581.20" r="1.1"/><circle cx="313.50" cy="555.40" r="1.1"/><circle cx="313.50" cy="557.70" r="1.1"/><circle cx="313.50" cy="559.50" r="1.1"/><circle cx="313.50" cy="561.20" r="1.1"/><circle cx="313.50" cy="564.60" r="1.1"/><circle cx="313.50" cy="568.00" r="1.1"/><circle cx="313.50" cy="570.30" r="1.1"/><circle cx="313.50" cy="574.90" r="1.1"/><circle cx="313.50" cy="581.20" r="1.1"/><circle cx="313.50" cy="586.40" r="1.1"/><circle cx="313.50" cy="588.10" r="1.1"/><circle cx="318.10" cy="554.90" r="1.1"/><circle cx="318.10" cy="557.20" r="1.1"/><circle cx="318.10" cy="560.00" r="1.1"/><circle cx="318.10" cy="562.90" r="1.1"/><circle cx="318.10" cy="568.00" r="1.1"/><circle cx="318.10" cy="570.30" r="1.1"/><circle cx="318.10" cy="578.00" r="1.1"/><circle cx="318.10" cy="580.60" r="1.1"/><circle cx="322.00" cy="556.60" r="1.1"/><circle cx="305.20" cy="567.70" r="1.1"/><circle cx="322.00" cy="568.60" r="1.1"/><circle cx="311.50" cy="591.00" r="1.1"/><circle cx="315.80" cy="592.70" r="1.1"/><circle cx="311.50" cy="595.00" r="1.1"/><circle cx="315.80" cy="595.90" r="1.1"/><circle cx="318.10" cy="600.90" r="1.1"/><circle cx="313.50" cy="602.80" r="1.1"/><circle cx="313.50" cy="622.70" r="1.1"/></g>
<path d="M246.40,553.50 V548.20 H313.80 V553.50" fill="none" stroke="#e03a38" stroke-width="0.9"/>
<text x="280.40" y="546.60" font-size="7.6" text-anchor="middle" fill="#2a2a2a" textLength="24.50" lengthAdjust="spacingAndGlyphs">0.8153</text>
<line x1="377.70" y1="534.50" x2="377.70" y2="644.10" stroke="#2b2b2b" stroke-width="1.2"/>
<line x1="374.70" y1="643.50" x2="377.70" y2="643.50" stroke="#2b2b2b" stroke-width="1.0"/>
<text x="372.10" y="645.52" font-size="5.6" text-anchor="end" fill="#2a2a2a" textLength="7.00" lengthAdjust="spacingAndGlyphs">10</text>
<line x1="374.70" y1="621.80" x2="377.70" y2="621.80" stroke="#2b2b2b" stroke-width="1.0"/>
<text x="372.10" y="623.82" font-size="5.6" text-anchor="end" fill="#2a2a2a" textLength="10.50" lengthAdjust="spacingAndGlyphs">100</text>
<line x1="374.70" y1="600.10" x2="377.70" y2="600.10" stroke="#2b2b2b" stroke-width="1.0"/>
<text x="372.10" y="602.12" font-size="5.6" text-anchor="end" fill="#2a2a2a" textLength="14.00" lengthAdjust="spacingAndGlyphs">1000</text>
<line x1="374.70" y1="578.40" x2="377.70" y2="578.40" stroke="#2b2b2b" stroke-width="1.0"/>
<text x="372.10" y="580.42" font-size="5.6" text-anchor="end" fill="#2a2a2a" textLength="17.50" lengthAdjust="spacingAndGlyphs">10000</text>
<line x1="374.70" y1="556.70" x2="377.70" y2="556.70" stroke="#2b2b2b" stroke-width="1.0"/>
<text x="372.10" y="558.72" font-size="5.6" text-anchor="end" fill="#2a2a2a" textLength="21.00" lengthAdjust="spacingAndGlyphs">100000</text>
<line x1="374.70" y1="535.00" x2="377.70" y2="535.00" stroke="#2b2b2b" stroke-width="1.0"/>
<text x="372.10" y="537.02" font-size="5.6" text-anchor="end" fill="#2a2a2a" textLength="24.50" lengthAdjust="spacingAndGlyphs">1000000</text>
<line x1="375.70" y1="636.97" x2="377.70" y2="636.97" stroke="#2b2b2b" stroke-width="0.75"/>
<line x1="375.70" y1="633.15" x2="377.70" y2="633.15" stroke="#2b2b2b" stroke-width="0.75"/>
<line x1="375.70" y1="630.44" x2="377.70" y2="630.44" stroke="#2b2b2b" stroke-width="0.75"/>
<line x1="375.70" y1="628.33" x2="377.70" y2="628.33" stroke="#2b2b2b" stroke-width="0.75"/>
<line x1="375.70" y1="626.61" x2="377.70" y2="626.61" stroke="#2b2b2b" stroke-width="0.75"/>
<line x1="375.70" y1="625.16" x2="377.70" y2="625.16" stroke="#2b2b2b" stroke-width="0.75"/>
<line x1="375.70" y1="623.90" x2="377.70" y2="623.90" stroke="#2b2b2b" stroke-width="0.75"/>
<line x1="375.70" y1="622.79" x2="377.70" y2="622.79" stroke="#2b2b2b" stroke-width="0.75"/>
<line x1="375.70" y1="615.27" x2="377.70" y2="615.27" stroke="#2b2b2b" stroke-width="0.75"/>
<line x1="375.70" y1="611.45" x2="377.70" y2="611.45" stroke="#2b2b2b" stroke-width="0.75"/>
<line x1="375.70" y1="608.74" x2="377.70" y2="608.74" stroke="#2b2b2b" stroke-width="0.75"/>
<line x1="375.70" y1="606.63" x2="377.70" y2="606.63" stroke="#2b2b2b" stroke-width="0.75"/>
<line x1="375.70" y1="604.91" x2="377.70" y2="604.91" stroke="#2b2b2b" stroke-width="0.75"/>
<line x1="375.70" y1="603.46" x2="377.70" y2="603.46" stroke="#2b2b2b" stroke-width="0.75"/>
<line x1="375.70" y1="602.20" x2="377.70" y2="602.20" stroke="#2b2b2b" stroke-width="0.75"/>
<line x1="375.70" y1="601.09" x2="377.70" y2="601.09" stroke="#2b2b2b" stroke-width="0.75"/>
<line x1="375.70" y1="593.57" x2="377.70" y2="593.57" stroke="#2b2b2b" stroke-width="0.75"/>
<line x1="375.70" y1="589.75" x2="377.70" y2="589.75" stroke="#2b2b2b" stroke-width="0.75"/>
<line x1="375.70" y1="587.04" x2="377.70" y2="587.04" stroke="#2b2b2b" stroke-width="0.75"/>
<line x1="375.70" y1="584.93" x2="377.70" y2="584.93" stroke="#2b2b2b" stroke-width="0.75"/>
<line x1="375.70" y1="583.21" x2="377.70" y2="583.21" stroke="#2b2b2b" stroke-width="0.75"/>
<line x1="375.70" y1="581.76" x2="377.70" y2="581.76" stroke="#2b2b2b" stroke-width="0.75"/>
<line x1="375.70" y1="580.50" x2="377.70" y2="580.50" stroke="#2b2b2b" stroke-width="0.75"/>
<line x1="375.70" y1="579.39" x2="377.70" y2="579.39" stroke="#2b2b2b" stroke-width="0.75"/>
<line x1="375.70" y1="571.87" x2="377.70" y2="571.87" stroke="#2b2b2b" stroke-width="0.75"/>
<line x1="375.70" y1="568.05" x2="377.70" y2="568.05" stroke="#2b2b2b" stroke-width="0.75"/>
<line x1="375.70" y1="565.34" x2="377.70" y2="565.34" stroke="#2b2b2b" stroke-width="0.75"/>
<line x1="375.70" y1="563.23" x2="377.70" y2="563.23" stroke="#2b2b2b" stroke-width="0.75"/>
<line x1="375.70" y1="561.51" x2="377.70" y2="561.51" stroke="#2b2b2b" stroke-width="0.75"/>
<line x1="375.70" y1="560.06" x2="377.70" y2="560.06" stroke="#2b2b2b" stroke-width="0.75"/>
<line x1="375.70" y1="558.80" x2="377.70" y2="558.80" stroke="#2b2b2b" stroke-width="0.75"/>
<line x1="375.70" y1="557.69" x2="377.70" y2="557.69" stroke="#2b2b2b" stroke-width="0.75"/>
<line x1="375.70" y1="550.17" x2="377.70" y2="550.17" stroke="#2b2b2b" stroke-width="0.75"/>
<line x1="375.70" y1="546.35" x2="377.70" y2="546.35" stroke="#2b2b2b" stroke-width="0.75"/>
<line x1="375.70" y1="543.64" x2="377.70" y2="543.64" stroke="#2b2b2b" stroke-width="0.75"/>
<line x1="375.70" y1="541.53" x2="377.70" y2="541.53" stroke="#2b2b2b" stroke-width="0.75"/>
<line x1="375.70" y1="539.81" x2="377.70" y2="539.81" stroke="#2b2b2b" stroke-width="0.75"/>
<line x1="375.70" y1="538.36" x2="377.70" y2="538.36" stroke="#2b2b2b" stroke-width="0.75"/>
<line x1="375.70" y1="537.10" x2="377.70" y2="537.10" stroke="#2b2b2b" stroke-width="0.75"/>
<line x1="375.70" y1="535.99" x2="377.70" y2="535.99" stroke="#2b2b2b" stroke-width="0.75"/>
<line x1="377.10" y1="644.30" x2="513.30" y2="644.30" stroke="#2b2b2b" stroke-width="1.2"/>
<line x1="421.00" y1="644.30" x2="421.00" y2="646.90" stroke="#2b2b2b" stroke-width="0.9"/>
<text x="421.00" y="655.60" font-size="6.6" text-anchor="middle" fill="#2a2a2a" textLength="19.70" lengthAdjust="spacingAndGlyphs">Control</text>
<line x1="488.00" y1="644.30" x2="488.00" y2="646.90" stroke="#2b2b2b" stroke-width="0.9"/>
<text x="488.00" y="655.60" font-size="6.6" text-anchor="middle" fill="#2a2a2a" textLength="25.80" lengthAdjust="spacingAndGlyphs">Treatment</text>
<text x="455.45" y="524.90" font-size="9.0" text-anchor="middle" fill="#2a2a2a" textLength="16.10" lengthAdjust="spacingAndGlyphs">ST2</text>
<text x="450.55" y="666.20" font-size="8.6" text-anchor="middle" fill="#333" textLength="16.30" lengthAdjust="spacingAndGlyphs" font-weight="bold">Group</text>
<text transform="translate(352.60,589.60) rotate(-90)" x="0" y="0" font-size="7.8" text-anchor="middle" fill="#444" textLength="18.80" lengthAdjust="spacingAndGlyphs" font-weight="bold">pg/mL</text>
<rect x="399.30" y="562.30" width="43.10" height="14.50" fill="none" stroke="#e03a38" stroke-width="0.9"/>
<line x1="399.30" y1="570.10" x2="442.40" y2="570.10" stroke="#e03a38" stroke-width="0.9"/>
<line x1="421.10" y1="556.50" x2="421.10" y2="562.30" stroke="#e03a38" stroke-width="0.9"/>
<line x1="415.00" y1="556.50" x2="427.20" y2="556.50" stroke="#e03a38" stroke-width="0.9"/>
<line x1="421.10" y1="576.80" x2="421.10" y2="622.20" stroke="#e03a38" stroke-width="0.9"/>
<line x1="415.00" y1="622.20" x2="427.20" y2="622.20" stroke="#e03a38" stroke-width="0.9"/>
<g fill="#d7101c"><circle cx="416.70" cy="556.50" r="0.95"/><circle cx="421.10" cy="556.50" r="0.95"/><circle cx="425.50" cy="556.50" r="0.95"/><circle cx="429.70" cy="556.20" r="0.95"/><circle cx="416.70" cy="559.80" r="0.95"/><circle cx="421.10" cy="561.50" r="0.95"/><circle cx="425.50" cy="561.50" r="0.95"/><circle cx="429.70" cy="561.70" r="0.95"/><circle cx="412.50" cy="564.00" r="0.95"/><circle cx="416.70" cy="564.00" r="0.95"/><circle cx="421.10" cy="564.30" r="0.95"/><circle cx="425.50" cy="564.00" r="0.95"/><circle cx="421.10" cy="568.40" r="0.95"/><circle cx="412.50" cy="570.90" r="0.95"/><circle cx="416.70" cy="569.80" r="0.95"/><circle cx="421.10" cy="570.00" r="0.95"/><circle cx="425.50" cy="570.00" r="0.95"/><circle cx="429.70" cy="569.50" r="0.95"/><circle cx="421.10" cy="571.60" r="0.95"/><circle cx="416.70" cy="573.40" r="0.95"/><circle cx="421.10" cy="574.30" r="0.95"/><circle cx="425.50" cy="572.80" r="0.95"/><circle cx="416.70" cy="577.00" r="0.95"/><circle cx="425.50" cy="576.50" r="0.95"/><circle cx="421.10" cy="577.80" r="0.95"/><circle cx="416.70" cy="580.30" r="0.95"/><circle cx="425.50" cy="581.00" r="0.95"/><circle cx="421.10" cy="582.10" r="0.95"/><circle cx="421.10" cy="587.90" r="0.95"/><circle cx="421.10" cy="594.90" r="0.95"/><circle cx="421.10" cy="622.20" r="0.95"/></g>
<rect x="466.10" y="566.50" width="43.70" height="12.90" fill="none" stroke="#1f3a66" stroke-width="0.9"/>
<line x1="466.10" y1="571.20" x2="509.80" y2="571.20" stroke="#1f3a66" stroke-width="0.9"/>
<line x1="487.80" y1="551.10" x2="487.80" y2="566.50" stroke="#1f3a66" stroke-width="0.9"/>
<line x1="482.00" y1="551.10" x2="493.60" y2="551.10" stroke="#1f3a66" stroke-width="0.9"/>
<line x1="487.80" y1="579.40" x2="487.80" y2="592.90" stroke="#1f3a66" stroke-width="0.9"/>
<line x1="482.00" y1="592.90" x2="493.60" y2="592.90" stroke="#1f3a66" stroke-width="0.9"/>
<g fill="#173262"><circle cx="485.80" cy="551.10" r="1.1"/><circle cx="489.90" cy="551.10" r="1.1"/><circle cx="487.80" cy="559.30" r="1.1"/><circle cx="487.80" cy="562.40" r="1.1"/><circle cx="483.70" cy="564.20" r="1.1"/><circle cx="487.80" cy="566.50" r="1.1"/><circle cx="491.90" cy="566.20" r="1.1"/><circle cx="496.20" cy="565.30" r="1.1"/><circle cx="474.90" cy="568.70" r="1.1"/><circle cx="474.90" cy="570.30" r="1.1"/><circle cx="479.30" cy="570.50" r="1.1"/><circle cx="483.70" cy="568.10" r="1.1"/><circle cx="483.70" cy="569.60" r="1.1"/><circle cx="483.70" cy="571.20" r="1.1"/><circle cx="483.70" cy="572.30" r="1.1"/><circle cx="487.80" cy="572.10" r="1.1"/><circle cx="487.80" cy="574.40" r="1.1"/><circle cx="491.90" cy="571.70" r="1.1"/><circle cx="491.90" cy="573.90" r="1.1"/><circle cx="496.20" cy="571.00" r="1.1"/><circle cx="500.70" cy="570.80" r="1.1"/><circle cx="483.70" cy="578.90" r="1.1"/><circle cx="491.90" cy="579.40" r="1.1"/><circle cx="487.80" cy="580.70" r="1.1"/><circle cx="487.80" cy="583.00" r="1.1"/><circle cx="487.80" cy="585.20" r="1.1"/><circle cx="487.80" cy="587.30" r="1.1"/><circle cx="487.80" cy="590.20" r="1.1"/><circle cx="487.80" cy="592.90" r="1.1"/></g>
<path d="M421.00,549.90 V544.30 H488.00 V549.00" fill="none" stroke="#e03a38" stroke-width="0.9"/>
<text x="454.60" y="542.10" font-size="7.6" text-anchor="middle" fill="#2a2a2a" textLength="24.00" lengthAdjust="spacingAndGlyphs">0.8084</text>
</svg>
</body></html>
